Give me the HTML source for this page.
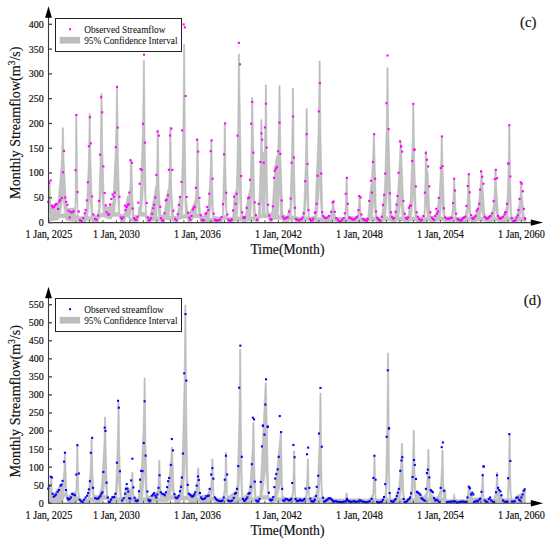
<!DOCTYPE html>
<html><head><meta charset="utf-8"><style>
html,body{margin:0;padding:0;background:#fff;width:550px;height:541px;overflow:hidden}
svg{display:block}
text{font-family:"Liberation Serif", serif;fill:#111}
.b{stroke:#111;stroke-width:0.18px}
.c{stroke:#111;stroke-width:0.05px}
</style></head><body>
<svg width="550" height="541" viewBox="0 0 550 541">
<rect width="550" height="541" fill="#fff"/>
<polygon points="48.60,187.39 48.70,180.49 49.80,180.49 50.85,203.70 51.85,206.67 57.85,202.68 58.10,202.76 61.10,166.19 62.10,142.47 62.35,127.85 63.41,127.85 64.10,162.19 66.35,204.70 67.35,208.22 67.60,208.59 74.85,207.88 75.10,204.93 75.60,147.59 75.69,115.28 76.79,115.28 77.85,207.00 78.10,214.96 79.35,216.72 83.60,216.72 85.10,211.85 85.35,211.61 86.35,211.98 88.35,163.74 88.85,142.86 89.15,113.80 90.25,113.80 90.85,160.45 92.60,213.09 92.85,214.44 96.85,215.63 97.10,215.23 98.10,210.04 98.60,209.78 100.10,160.47 100.85,108.71 100.90,93.84 102.00,93.84 102.60,146.72 104.35,205.22 104.60,206.65 108.10,206.81 111.10,204.82 112.10,202.95 112.35,202.81 112.85,203.32 115.35,149.42 116.10,120.23 116.43,87.92 117.53,87.92 118.35,158.05 119.85,213.34 120.60,214.39 123.85,214.50 124.10,214.36 127.35,196.60 127.60,195.90 128.85,194.65 129.35,195.39 130.10,183.17 130.63,159.79 131.73,159.79 132.85,200.99 133.10,203.51 133.35,204.06 134.10,214.74 134.35,215.28 137.60,215.93 137.85,215.74 138.60,207.14 139.60,208.19 139.85,206.23 142.35,134.82 143.10,95.00 143.35,60.63 144.44,60.63 145.10,142.60 146.35,209.17 146.60,215.56 149.60,217.43 154.10,196.73 155.60,186.46 156.10,187.46 156.85,163.39 157.24,130.06 158.34,130.06 159.10,188.80 160.60,212.39 160.85,214.55 163.60,215.93 167.85,189.36 168.60,190.20 169.35,166.67 169.85,127.11 170.91,127.11 171.60,185.49 171.85,193.92 173.60,215.82 176.85,216.68 177.10,216.06 179.85,196.14 180.10,195.38 181.35,196.45 182.85,127.60 183.35,87.43 183.60,44.36 184.66,44.36 185.35,146.90 186.10,198.97 186.35,200.70 186.85,201.13 187.85,214.50 188.10,214.50 191.85,208.47 194.85,200.69 195.60,196.40 196.60,167.72 196.95,138.94 198.05,138.94 198.85,197.35 199.10,200.36 199.60,201.13 200.60,214.89 200.85,215.98 205.85,215.98 206.10,217.41 207.10,210.13 207.85,210.83 208.10,209.79 210.10,173.39 210.60,155.77 210.85,139.68 211.87,139.68 212.60,185.36 213.60,214.12 213.85,216.45 222.10,217.46 222.35,215.99 223.85,161.40 224.23,122.67 225.33,122.67 225.85,170.32 227.10,216.13 227.35,217.46 232.60,217.46 234.10,196.74 235.60,190.79 236.35,189.50 237.60,135.53 238.10,93.59 238.35,53.97 239.38,53.97 241.60,202.48 241.85,210.12 242.35,212.75 242.60,215.25 242.85,215.96 245.60,215.69 246.35,206.32 249.60,189.45 249.85,190.01 250.10,187.68 251.10,147.81 251.60,97.53 252.69,97.53 254.60,199.56 255.60,214.75 256.35,217.41 258.35,216.08 259.35,192.15 260.60,149.85 260.90,119.71 262.00,119.71 262.35,150.09 262.60,152.39 264.35,152.39 265.10,118.11 265.35,84.96 266.44,84.96 267.10,170.08 267.85,204.73 268.35,212.23 268.60,213.02 271.60,213.02 271.85,212.47 274.85,166.56 276.35,156.68 277.60,155.02 278.60,119.68 278.94,85.70 280.04,85.70 280.85,157.94 282.85,213.43 283.10,214.60 285.85,215.91 286.10,217.31 287.35,215.43 288.85,209.07 289.10,208.74 289.85,209.57 291.60,151.93 292.10,121.86 292.35,88.11 293.43,88.11 294.10,154.39 295.60,215.89 296.35,216.72 302.10,218.16 302.35,217.44 303.10,211.62 303.60,212.05 305.35,164.54 305.85,140.03 306.12,108.74 307.22,108.74 307.85,164.81 309.10,211.78 309.35,216.94 309.85,217.37 314.85,215.98 317.85,139.18 318.85,90.51 319.10,61.05 320.15,61.05 320.85,135.38 322.85,215.98 326.60,217.14 330.35,214.51 330.85,214.57 332.10,207.33 332.47,201.19 333.57,201.19 334.35,210.99 335.10,215.18 335.60,215.43 336.35,217.46 344.85,217.34 345.85,193.24 346.10,177.53 347.18,177.53 347.85,205.57 348.35,215.47 348.60,216.34 357.35,217.24 358.35,209.07 358.85,200.76 358.94,196.02 360.04,196.02 360.85,211.16 361.60,217.91 365.85,217.77 366.10,218.15 367.35,217.52 368.10,214.97 369.85,192.73 371.10,183.98 371.35,183.27 372.85,154.61 373.35,133.14 374.35,133.14 376.35,211.51 377.10,217.46 381.35,217.46 381.60,216.73 384.60,187.24 386.35,123.89 386.85,86.52 386.93,67.71 388.03,67.71 388.60,124.25 391.10,212.02 392.35,217.44 394.85,215.86 397.60,193.86 399.60,158.06 400.10,140.91 401.12,140.91 403.85,208.43 404.85,216.70 408.10,215.99 410.35,198.52 412.35,137.16 412.73,104.31 413.83,104.31 414.60,157.75 416.10,208.00 416.35,211.91 417.35,216.91 417.60,217.44 423.60,216.73 424.35,208.47 425.10,175.40 425.35,150.91 426.44,150.91 426.85,165.20 427.35,170.26 427.85,171.99 428.10,172.03 429.60,208.69 430.85,217.43 434.60,216.04 436.85,210.41 439.35,194.06 440.85,159.02 441.24,136.47 442.34,136.47 442.85,165.01 443.60,183.27 444.35,206.55 445.10,215.83 445.85,216.59 446.10,217.43 451.60,215.98 451.85,211.36 452.10,210.33 452.35,210.69 453.35,192.30 453.60,179.01 454.68,179.01 456.10,213.90 456.35,216.40 457.10,217.46 465.10,216.73 465.85,211.08 466.10,210.25 466.35,210.59 466.60,209.55 467.60,193.68 468.10,173.84 469.17,173.84 470.60,214.00 470.85,216.67 471.35,217.34 475.60,214.42 477.85,206.77 478.85,200.77 480.60,181.05 480.94,170.88 482.04,170.88 482.60,184.27 483.60,194.40 484.35,209.79 485.60,217.31 491.85,214.44 493.60,203.18 494.60,186.16 494.99,169.40 496.09,169.40 496.60,188.10 498.60,215.99 504.35,216.71 506.85,203.04 508.10,169.10 508.60,144.28 508.74,125.19 509.84,125.19 510.60,182.80 511.35,209.29 511.85,217.45 516.85,216.74 518.35,206.44 518.60,205.63 518.85,205.63 519.10,204.71 520.10,194.12 520.60,181.97 521.67,181.97 522.35,196.85 524.35,217.22 525.35,218.76 525.60,218.70 525.85,218.39 525.85,222.00 524.60,222.00 524.35,221.76 524.10,220.82 518.10,220.88 517.60,222.00 511.60,222.00 511.35,221.76 511.10,220.86 510.85,220.74 505.85,220.80 505.10,221.92 498.35,222.00 498.10,220.98 497.85,220.74 492.60,220.74 492.10,222.00 485.35,222.00 484.60,220.74 477.10,220.74 476.10,222.00 471.35,222.00 471.10,221.70 470.85,220.76 466.35,220.86 465.85,221.99 456.60,222.00 456.10,220.85 455.85,220.74 453.10,220.74 452.10,221.98 444.85,222.00 444.35,220.74 436.35,220.74 435.60,221.89 435.35,222.00 430.10,221.89 429.60,220.77 424.85,220.74 424.10,222.00 416.85,222.00 416.35,220.90 416.10,220.74 409.60,220.77 408.85,221.90 404.35,222.00 403.60,220.74 396.35,220.74 395.35,222.00 391.85,222.00 391.10,220.74 383.10,220.74 382.35,221.92 376.85,222.00 376.35,220.74 369.85,220.74 368.35,222.00 361.60,221.96 361.35,221.48 357.85,221.48 357.35,222.00 348.60,222.00 348.10,221.48 345.35,221.48 344.85,222.00 335.10,221.82 334.85,220.92 334.60,220.74 331.85,220.74 330.85,222.00 323.35,222.00 322.85,221.48 314.10,221.48 313.85,222.00 309.35,221.84 308.85,220.74 303.85,220.74 303.10,221.90 295.60,222.00 294.85,219.99 290.35,219.39 288.85,221.51 282.85,222.00 282.10,219.26 272.60,219.26 271.85,222.00 269.35,222.00 268.10,217.78 259.60,217.78 258.60,222.00 256.10,222.00 255.60,220.92 255.35,220.74 246.60,220.85 245.85,222.00 242.85,222.00 242.10,220.74 234.10,220.74 233.35,222.00 227.85,222.00 227.60,221.77 226.60,219.26 223.10,219.26 221.85,222.00 206.10,222.00 205.85,220.80 200.60,222.00 199.85,217.78 193.35,217.78 191.85,221.36 191.60,221.52 188.10,222.00 187.35,217.78 178.60,219.24 177.60,221.77 177.35,222.00 174.10,221.83 173.60,220.73 165.35,219.29 165.10,219.52 164.35,221.77 164.10,222.00 161.10,222.00 160.60,220.74 151.85,220.77 150.85,222.00 146.85,222.00 145.10,216.30 139.35,216.30 138.10,221.74 137.85,222.00 129.85,220.81 128.85,217.73 126.10,216.35 124.60,222.00 120.85,222.00 120.60,221.60 119.85,216.30 112.60,216.30 111.10,219.19 105.10,217.68 104.35,216.32 99.35,217.75 98.10,221.75 97.85,222.00 92.60,222.00 91.85,220.75 86.60,220.13 85.60,222.00 78.10,221.87 77.10,219.37 75.35,219.26 74.10,221.47 66.60,220.53 65.10,217.78 59.35,217.78 57.85,219.97 48.60,220.86" fill="#c2c2c2" stroke="#acacac" stroke-width="0.5" stroke-linejoin="round"/><polygon points="48.85,216.16 49.10,214.05 49.35,212.73 49.60,214.62 49.85,215.96 49.85,217.28 49.60,217.20 49.35,217.11 49.10,217.03 48.85,216.95" fill="#f4f4f4"/><polygon points="60.35,213.41 60.60,212.39 60.85,211.32 61.10,210.19 61.35,208.99 61.60,207.69 61.85,206.26 62.10,204.67 62.35,202.82 62.60,200.48 62.85,196.05 63.10,201.16 63.35,203.96 63.60,206.16 63.85,208.04 64.10,209.71 64.35,211.24 64.60,212.66 64.60,213.78 64.35,213.78 64.10,213.78 63.85,213.78 63.60,213.78 63.35,213.78 63.10,213.78 62.85,213.78 62.60,213.78 62.35,213.78 62.10,213.78 61.85,213.78 61.60,213.78 61.35,213.78 61.10,213.78 60.85,213.78 60.60,213.78 60.35,213.78" fill="#f4f4f4"/><polygon points="75.85,209.87 76.10,202.72 76.35,199.87 76.60,205.97 76.85,210.24 77.10,213.88 77.10,215.37 76.85,215.26 76.60,215.26 76.35,215.26 76.10,215.26 75.85,215.26" fill="#f4f4f4"/><polygon points="88.10,214.63 88.35,212.80 88.60,210.79 88.85,208.56 89.10,205.99 89.35,202.85 89.60,198.28 89.85,199.96 90.10,204.32 90.35,207.55 90.60,210.26 90.85,212.66 91.10,214.85 91.10,216.63 90.85,216.60 90.60,216.56 90.35,216.52 90.10,216.49 89.85,216.45 89.60,216.42 89.35,216.38 89.10,216.35 88.85,216.31 88.60,216.27 88.35,216.24 88.10,216.20" fill="#f4f4f4"/><polygon points="100.10,212.06 100.35,209.27 100.60,206.19 100.85,202.69 101.10,198.48 101.35,192.48 101.60,193.46 101.85,198.62 102.10,202.37 102.35,205.47 102.60,208.19 102.85,210.63 102.85,212.75 102.60,212.82 102.35,212.89 102.10,212.96 101.85,213.03 101.60,213.10 101.35,213.18 101.10,213.25 100.85,213.32 100.60,213.39 100.35,213.46 100.10,213.53" fill="#f4f4f4"/><polygon points="114.85,211.28 115.10,209.49 115.35,207.58 115.60,205.53 115.85,203.31 116.10,200.86 116.35,198.06 116.60,194.69 116.85,190.01 117.10,191.07 117.35,196.94 117.60,201.11 117.85,204.58 118.10,207.61 118.35,210.35 118.35,212.30 118.10,212.30 117.85,212.30 117.60,212.30 117.35,212.30 117.10,212.30 116.85,212.30 116.60,212.30 116.35,212.30 116.10,212.30 115.85,212.30 115.60,212.30 115.35,212.30 115.10,212.30 114.85,212.30" fill="#f4f4f4"/><polygon points="130.35,216.10 130.60,214.38 130.85,212.21 131.10,208.84 131.35,210.52 131.60,213.41 131.85,215.65 132.10,217.59 132.10,217.94 131.85,217.81 131.60,217.69 131.35,217.56 131.10,217.44 130.85,217.31 130.60,217.19 130.35,217.06" fill="#f4f4f4"/><polygon points="141.85,210.28 142.10,208.00 142.35,205.57 142.60,202.96 142.85,200.11 143.10,196.93 143.35,193.25 143.60,188.68 143.85,181.31 144.10,189.44 144.35,196.02 144.60,201.08 144.85,205.37 145.10,209.18 145.10,212.30 144.85,212.30 144.60,212.30 144.35,212.30 144.10,212.30 143.85,212.30 143.60,212.30 143.35,212.30 143.10,212.30 142.85,212.30 142.60,212.30 142.35,212.30 142.10,212.30 141.85,212.30" fill="#f4f4f4"/><polygon points="157.10,214.13 157.35,210.63 157.60,206.02 157.85,202.50 158.10,209.24 158.35,213.57 158.35,216.74 158.10,216.74 157.85,216.74 157.60,216.74 157.35,216.74 157.10,216.74" fill="#f4f4f4"/><polygon points="169.60,214.25 169.85,210.87 170.10,206.59 170.35,198.71 170.60,206.94 170.85,211.84 171.10,215.70 171.10,216.30 170.85,216.25 170.60,216.21 170.35,216.16 170.10,216.12 169.85,216.08 169.60,216.03" fill="#f4f4f4"/><polygon points="182.85,211.02 183.10,206.86 183.35,202.22 183.60,196.83 183.85,190.08 184.10,177.93 184.35,191.68 184.60,199.89 184.85,206.28 185.10,211.74 185.10,214.16 184.85,214.20 184.60,214.24 184.35,214.28 184.10,214.32 183.85,214.37 183.60,214.41 183.35,214.45 183.10,214.49 182.85,214.53" fill="#f4f4f4"/><polygon points="196.60,213.07 196.85,210.60 197.10,207.65 197.35,203.62 197.60,203.22 197.85,208.22 198.10,211.70 198.10,213.78 197.85,213.78 197.60,213.78 197.35,213.78 197.10,213.78 196.85,213.78 196.60,213.78" fill="#f4f4f4"/><polygon points="209.60,217.50 209.85,216.17 210.10,214.74 210.35,213.17 210.60,211.40 210.85,209.32 211.10,206.65 211.35,203.37 211.60,208.49 211.85,211.50 212.10,213.90 212.35,215.97 212.35,218.00 212.10,218.00 211.85,218.00 211.60,218.00 211.35,218.00 211.10,218.00 210.85,218.00 210.60,218.00 210.35,218.00 210.10,218.00 209.85,218.00 209.60,218.00" fill="#f4f4f4"/><polygon points="223.60,213.70 223.85,211.42 224.10,208.84 224.35,205.78 224.60,201.72 224.85,199.15 225.10,204.42 225.35,207.91 225.60,210.74 225.85,213.20 225.85,215.26 225.60,215.26 225.35,215.26 225.10,215.26 224.85,215.26 224.60,215.26 224.35,215.26 224.10,215.26 223.85,215.26 223.60,215.26" fill="#f4f4f4"/><polygon points="237.60,215.56 237.85,211.26 238.10,206.43 238.35,200.78 238.60,193.51 238.85,182.57 239.10,193.14 239.35,199.22 239.60,204.06 239.85,208.23 240.10,211.97 240.35,215.38 240.35,216.74 240.10,216.74 239.85,216.74 239.60,216.74 239.35,216.74 239.10,216.74 238.85,216.74 238.60,216.74 238.35,216.74 238.10,216.74 237.85,216.74 237.60,216.74" fill="#f4f4f4"/><polygon points="251.10,215.00 251.35,211.47 251.60,207.39 251.85,202.30 252.10,193.93 252.35,199.34 252.60,204.35 252.85,208.21 253.10,211.49 253.35,214.41 253.35,216.74 253.10,216.74 252.85,216.74 252.60,216.74 252.35,216.74 252.10,216.74 251.85,216.74 251.60,216.74 251.35,216.74 251.10,216.74" fill="#f4f4f4"/><polygon points="261.10,209.83 261.35,201.67 261.60,203.50 261.85,210.94 261.85,213.78 261.60,213.78 261.35,213.78 261.10,213.78" fill="#f4f4f4"/><polygon points="265.35,208.40 265.60,201.48 265.85,190.20 266.10,200.29 266.35,208.74 266.35,213.78 266.10,213.78 265.85,213.78 265.60,213.78 265.35,213.78" fill="#f4f4f4"/><polygon points="278.60,213.87 278.85,209.24 279.10,203.70 279.35,196.11 279.60,195.69 279.85,204.96 280.10,211.45 280.10,215.26 279.85,215.26 279.60,215.26 279.35,215.26 279.10,215.26 278.85,215.26 278.60,215.26" fill="#f4f4f4"/><polygon points="291.35,214.42 291.60,211.87 291.85,209.07 292.10,205.92 292.35,202.26 292.60,197.65 292.85,189.76 293.10,196.95 293.35,202.17 293.60,206.23 293.85,209.71 294.10,212.82 294.10,215.87 293.85,215.83 293.60,215.79 293.35,215.74 293.10,215.70 292.85,215.66 292.60,215.62 292.35,215.58 292.10,215.54 291.85,215.49 291.60,215.45 291.35,215.41" fill="#f4f4f4"/><polygon points="305.10,216.24 305.35,214.09 305.60,211.75 305.85,209.15 306.10,206.16 306.35,202.47 306.60,196.84 306.85,200.52 307.10,205.20 307.35,208.73 307.60,211.72 307.85,214.36 307.85,216.74 307.60,216.74 307.35,216.74 307.10,216.74 306.85,216.74 306.60,216.74 306.35,216.74 306.10,216.74 305.85,216.74 305.60,216.74 305.35,216.74 305.10,216.74" fill="#f4f4f4"/><polygon points="317.10,216.72 317.35,214.73 317.60,212.65 317.85,210.44 318.10,208.08 318.35,205.54 318.60,202.76 318.85,199.64 319.10,196.01 319.35,191.42 319.60,182.45 319.85,193.61 320.10,199.37 320.35,203.91 320.60,207.79 320.85,211.25 321.10,214.42 321.10,217.48 320.85,217.48 320.60,217.48 320.35,217.48 320.10,217.48 319.85,217.48 319.60,217.48 319.35,217.48 319.10,217.48 318.85,217.48 318.60,217.48 318.35,217.48 318.10,217.48 317.85,217.48 317.60,217.48 317.35,217.48 317.10,217.48" fill="#f4f4f4"/><polygon points="345.85,216.66 346.10,215.48 346.35,214.00 346.60,211.49 346.85,213.58 347.10,215.17 347.35,216.41 347.35,217.48 347.10,217.48 346.85,217.48 346.60,217.48 346.35,217.48 346.10,217.48 345.85,217.48" fill="#f4f4f4"/><polygon points="358.85,216.87 359.10,216.45 359.35,215.88 359.60,215.74 359.85,216.34 360.10,216.76 360.35,217.10 360.35,217.48 360.10,217.48 359.85,217.48 359.60,217.48 359.35,217.48 359.10,217.48 358.85,217.48" fill="#f4f4f4"/><polygon points="372.60,215.96 372.85,213.90 373.10,211.57 373.35,208.82 373.60,205.23 373.85,201.81 374.10,206.82 374.35,209.98 374.60,212.53 374.85,214.74 374.85,216.74 374.60,216.74 374.35,216.74 374.10,216.74 373.85,216.74 373.60,216.74 373.35,216.74 373.10,216.74 372.85,216.74 372.60,216.74" fill="#f4f4f4"/><polygon points="386.10,213.76 386.35,210.50 386.60,206.90 386.85,202.79 387.10,197.85 387.35,190.97 387.60,190.69 387.85,197.68 388.10,202.66 388.35,206.78 388.60,210.40 388.85,213.67 388.85,216.74 388.60,216.74 388.35,216.74 388.10,216.74 387.85,216.74 387.60,216.74 387.35,216.74 387.10,216.74 386.85,216.74 386.60,216.74 386.35,216.74 386.10,216.74" fill="#f4f4f4"/><polygon points="399.10,215.85 399.35,214.38 399.60,212.76 399.85,210.94 400.10,208.80 400.35,206.03 400.60,202.83 400.85,207.34 401.10,210.06 401.35,212.24 401.60,214.13 401.85,215.81 401.85,216.74 401.60,216.74 401.35,216.74 401.10,216.74 400.85,216.74 400.60,216.74 400.35,216.74 400.10,216.74 399.85,216.74 399.60,216.74 399.35,216.74 399.10,216.74" fill="#f4f4f4"/><polygon points="411.85,215.04 412.10,212.70 412.35,210.12 412.60,207.21 412.85,203.75 413.10,199.18 413.35,196.30 413.60,202.59 413.85,206.72 414.10,210.08 414.35,212.99 414.60,215.61 414.60,216.74 414.35,216.74 414.10,216.74 413.85,216.74 413.60,216.74 413.35,216.74 413.10,216.74 412.85,216.74 412.60,216.74 412.35,216.74 412.10,216.74 411.85,216.74" fill="#f4f4f4"/><polygon points="425.35,214.26 425.60,211.07 425.85,205.87 426.10,207.97 426.35,210.50 426.60,212.44 426.85,214.09 427.10,215.55 427.10,216.74 426.85,216.74 426.60,216.74 426.35,216.74 426.10,216.74 425.85,216.74 425.60,216.74 425.35,216.74" fill="#f4f4f4"/><polygon points="440.60,215.89 440.85,213.90 441.10,211.67 441.35,209.02 441.60,205.52 441.85,203.13 442.10,207.95 442.35,211.09 442.60,213.65 442.85,215.86 442.85,216.74 442.60,216.74 442.35,216.74 442.10,216.74 441.85,216.74 441.60,216.74 441.35,216.74 441.10,216.74 440.85,216.74 440.60,216.74" fill="#f4f4f4"/><polygon points="453.35,216.00 453.60,214.92 453.85,213.56 454.10,211.31 454.35,212.85 454.60,214.18 454.85,215.22 455.10,216.09 455.10,216.74 454.85,216.74 454.60,216.74 454.35,216.74 454.10,216.74 453.85,216.74 453.60,216.74 453.35,216.74" fill="#f4f4f4"/><polygon points="467.60,216.19 467.85,215.17 468.10,213.98 468.35,212.49 468.60,209.94 468.85,212.13 469.10,213.72 469.35,214.95 469.60,216.00 469.60,216.74 469.35,216.74 469.10,216.74 468.85,216.74 468.60,216.74 468.35,216.74 468.10,216.74 467.85,216.74 467.60,216.74" fill="#f4f4f4"/><polygon points="480.35,215.74 480.60,214.79 480.85,213.71 481.10,212.41 481.35,210.63 481.60,210.34 481.85,212.24 482.10,213.57 482.35,214.67 482.60,215.63 482.60,216.74 482.35,216.74 482.10,216.74 481.85,216.74 481.60,216.74 481.35,216.74 481.10,216.74 480.85,216.74 480.60,216.74 480.35,216.74" fill="#f4f4f4"/><polygon points="494.60,215.97 494.85,214.71 495.10,213.21 495.35,211.23 495.60,209.66 495.85,212.17 496.10,213.80 496.35,215.13 496.60,216.27 496.60,216.74 496.35,216.74 496.10,216.74 495.85,216.74 495.60,216.74 495.35,216.74 495.10,216.74 494.85,216.74 494.60,216.74" fill="#f4f4f4"/><polygon points="508.10,215.78 508.35,213.48 508.60,210.88 508.85,207.81 509.10,203.76 509.35,200.98 509.60,207.06 509.85,210.99 510.10,214.17 510.10,216.74 509.85,216.74 509.60,216.74 509.35,216.74 509.10,216.74 508.85,216.74 508.60,216.74 508.35,216.74 508.10,216.74" fill="#f4f4f4"/><polygon points="520.10,216.32 520.35,215.57 520.60,214.69 520.85,213.59 521.10,211.65 521.35,213.37 521.60,214.53 521.85,215.43 522.10,216.21 522.10,216.74 521.85,216.74 521.60,216.74 521.35,216.74 521.10,216.74 520.85,216.74 520.60,216.74 520.35,216.74 520.10,216.74" fill="#f4f4f4"/><rect x="47.17" y="200.88" width="2.1" height="2.1" fill="#ff00ff"/><rect x="48.20" y="182.10" width="2.1" height="2.1" fill="#ff00ff"/><rect x="49.68" y="179.44" width="2.1" height="2.1" fill="#ff00ff"/><rect x="50.86" y="204.58" width="2.1" height="2.1" fill="#ff00ff"/><rect x="51.75" y="206.35" width="2.1" height="2.1" fill="#ff00ff"/><rect x="52.79" y="205.76" width="2.1" height="2.1" fill="#ff00ff"/><rect x="53.82" y="204.28" width="2.1" height="2.1" fill="#ff00ff"/><rect x="54.86" y="202.80" width="2.1" height="2.1" fill="#ff00ff"/><rect x="55.74" y="203.10" width="2.1" height="2.1" fill="#ff00ff"/><rect x="57.08" y="207.83" width="2.1" height="2.1" fill="#ff00ff"/><rect x="58.26" y="200.59" width="2.1" height="2.1" fill="#ff00ff"/><rect x="59.15" y="198.96" width="2.1" height="2.1" fill="#ff00ff"/><rect x="60.77" y="196.89" width="2.1" height="2.1" fill="#ff00ff"/><rect x="61.96" y="171.31" width="2.1" height="2.1" fill="#ff00ff"/><rect x="62.99" y="149.86" width="2.1" height="2.1" fill="#ff00ff"/><rect x="64.17" y="196.45" width="2.1" height="2.1" fill="#ff00ff"/><rect x="65.21" y="200.88" width="2.1" height="2.1" fill="#ff00ff"/><rect x="66.39" y="203.84" width="2.1" height="2.1" fill="#ff00ff"/><rect x="67.57" y="209.75" width="2.1" height="2.1" fill="#ff00ff"/><rect x="68.61" y="216.41" width="2.1" height="2.1" fill="#ff00ff"/><rect x="69.79" y="211.23" width="2.1" height="2.1" fill="#ff00ff"/><rect x="71.27" y="211.23" width="2.1" height="2.1" fill="#ff00ff"/><rect x="72.60" y="210.20" width="2.1" height="2.1" fill="#ff00ff"/><rect x="74.52" y="169.09" width="2.1" height="2.1" fill="#ff00ff"/><rect x="76.45" y="190.97" width="2.1" height="2.1" fill="#ff00ff"/><rect x="77.78" y="210.49" width="2.1" height="2.1" fill="#ff00ff"/><rect x="78.96" y="219.07" width="2.1" height="2.1" fill="#ff00ff"/><rect x="80.44" y="219.96" width="2.1" height="2.1" fill="#ff00ff"/><rect x="82.21" y="217.15" width="2.1" height="2.1" fill="#ff00ff"/><rect x="83.69" y="212.27" width="2.1" height="2.1" fill="#ff00ff"/><rect x="84.58" y="209.01" width="2.1" height="2.1" fill="#ff00ff"/><rect x="85.76" y="199.40" width="2.1" height="2.1" fill="#ff00ff"/><rect x="86.80" y="181.21" width="2.1" height="2.1" fill="#ff00ff"/><rect x="87.83" y="145.13" width="2.1" height="2.1" fill="#ff00ff"/><rect x="91.09" y="195.41" width="2.1" height="2.1" fill="#ff00ff"/><rect x="92.27" y="213.45" width="2.1" height="2.1" fill="#ff00ff"/><rect x="94.04" y="217.89" width="2.1" height="2.1" fill="#ff00ff"/><rect x="95.52" y="218.63" width="2.1" height="2.1" fill="#ff00ff"/><rect x="97.00" y="214.49" width="2.1" height="2.1" fill="#ff00ff"/><rect x="97.89" y="199.85" width="2.1" height="2.1" fill="#ff00ff"/><rect x="98.92" y="153.56" width="2.1" height="2.1" fill="#ff00ff"/><rect x="102.33" y="165.39" width="2.1" height="2.1" fill="#ff00ff"/><rect x="103.51" y="192.01" width="2.1" height="2.1" fill="#ff00ff"/><rect x="104.69" y="204.28" width="2.1" height="2.1" fill="#ff00ff"/><rect x="105.58" y="211.23" width="2.1" height="2.1" fill="#ff00ff"/><rect x="107.06" y="213.45" width="2.1" height="2.1" fill="#ff00ff"/><rect x="108.09" y="213.45" width="2.1" height="2.1" fill="#ff00ff"/><rect x="108.98" y="203.40" width="2.1" height="2.1" fill="#ff00ff"/><rect x="110.31" y="197.92" width="2.1" height="2.1" fill="#ff00ff"/><rect x="111.49" y="193.49" width="2.1" height="2.1" fill="#ff00ff"/><rect x="112.68" y="195.71" width="2.1" height="2.1" fill="#ff00ff"/><rect x="113.71" y="191.57" width="2.1" height="2.1" fill="#ff00ff"/><rect x="114.75" y="146.17" width="2.1" height="2.1" fill="#ff00ff"/><rect x="118.44" y="195.71" width="2.1" height="2.1" fill="#ff00ff"/><rect x="119.63" y="216.41" width="2.1" height="2.1" fill="#ff00ff"/><rect x="120.81" y="217.89" width="2.1" height="2.1" fill="#ff00ff"/><rect x="122.29" y="216.41" width="2.1" height="2.1" fill="#ff00ff"/><rect x="123.91" y="204.58" width="2.1" height="2.1" fill="#ff00ff"/><rect x="124.51" y="209.01" width="2.1" height="2.1" fill="#ff00ff"/><rect x="75.26" y="113.93" width="2.1" height="2.1" fill="#ff00ff"/><rect x="88.87" y="116.15" width="2.1" height="2.1" fill="#ff00ff"/><rect x="89.76" y="142.32" width="2.1" height="2.1" fill="#ff00ff"/><rect x="100.11" y="96.19" width="2.1" height="2.1" fill="#ff00ff"/><rect x="101.14" y="111.27" width="2.1" height="2.1" fill="#ff00ff"/><rect x="115.93" y="85.84" width="2.1" height="2.1" fill="#ff00ff"/><rect x="116.67" y="126.50" width="2.1" height="2.1" fill="#ff00ff"/><rect x="125.69" y="206.06" width="2.1" height="2.1" fill="#ff00ff"/><rect x="126.72" y="203.84" width="2.1" height="2.1" fill="#ff00ff"/><rect x="127.61" y="203.10" width="2.1" height="2.1" fill="#ff00ff"/><rect x="128.20" y="191.57" width="2.1" height="2.1" fill="#ff00ff"/><rect x="129.39" y="159.18" width="2.1" height="2.1" fill="#ff00ff"/><rect x="130.86" y="161.69" width="2.1" height="2.1" fill="#ff00ff"/><rect x="131.60" y="207.54" width="2.1" height="2.1" fill="#ff00ff"/><rect x="133.08" y="217.15" width="2.1" height="2.1" fill="#ff00ff"/><rect x="134.12" y="218.63" width="2.1" height="2.1" fill="#ff00ff"/><rect x="135.30" y="218.63" width="2.1" height="2.1" fill="#ff00ff"/><rect x="136.34" y="215.67" width="2.1" height="2.1" fill="#ff00ff"/><rect x="137.22" y="201.62" width="2.1" height="2.1" fill="#ff00ff"/><rect x="138.55" y="182.69" width="2.1" height="2.1" fill="#ff00ff"/><rect x="139.44" y="168.05" width="2.1" height="2.1" fill="#ff00ff"/><rect x="140.77" y="168.79" width="2.1" height="2.1" fill="#ff00ff"/><rect x="145.65" y="201.92" width="2.1" height="2.1" fill="#ff00ff"/><rect x="146.84" y="216.41" width="2.1" height="2.1" fill="#ff00ff"/><rect x="147.87" y="219.37" width="2.1" height="2.1" fill="#ff00ff"/><rect x="148.91" y="218.63" width="2.1" height="2.1" fill="#ff00ff"/><rect x="150.09" y="217.15" width="2.1" height="2.1" fill="#ff00ff"/><rect x="151.12" y="212.71" width="2.1" height="2.1" fill="#ff00ff"/><rect x="152.31" y="207.24" width="2.1" height="2.1" fill="#ff00ff"/><rect x="153.05" y="203.84" width="2.1" height="2.1" fill="#ff00ff"/><rect x="154.23" y="196.45" width="2.1" height="2.1" fill="#ff00ff"/><rect x="155.26" y="173.97" width="2.1" height="2.1" fill="#ff00ff"/><rect x="159.26" y="205.76" width="2.1" height="2.1" fill="#ff00ff"/><rect x="160.00" y="217.15" width="2.1" height="2.1" fill="#ff00ff"/><rect x="161.18" y="219.37" width="2.1" height="2.1" fill="#ff00ff"/><rect x="162.21" y="219.37" width="2.1" height="2.1" fill="#ff00ff"/><rect x="163.40" y="212.27" width="2.1" height="2.1" fill="#ff00ff"/><rect x="164.58" y="199.40" width="2.1" height="2.1" fill="#ff00ff"/><rect x="165.62" y="198.66" width="2.1" height="2.1" fill="#ff00ff"/><rect x="166.80" y="194.23" width="2.1" height="2.1" fill="#ff00ff"/><rect x="167.83" y="168.79" width="2.1" height="2.1" fill="#ff00ff"/><rect x="171.23" y="168.79" width="2.1" height="2.1" fill="#ff00ff"/><rect x="172.27" y="209.75" width="2.1" height="2.1" fill="#ff00ff"/><rect x="174.19" y="217.89" width="2.1" height="2.1" fill="#ff00ff"/><rect x="175.52" y="219.37" width="2.1" height="2.1" fill="#ff00ff"/><rect x="176.71" y="213.16" width="2.1" height="2.1" fill="#ff00ff"/><rect x="177.89" y="203.84" width="2.1" height="2.1" fill="#ff00ff"/><rect x="178.92" y="196.00" width="2.1" height="2.1" fill="#ff00ff"/><rect x="180.40" y="180.92" width="2.1" height="2.1" fill="#ff00ff"/><rect x="185.58" y="196.00" width="2.1" height="2.1" fill="#ff00ff"/><rect x="187.06" y="211.68" width="2.1" height="2.1" fill="#ff00ff"/><rect x="188.24" y="216.70" width="2.1" height="2.1" fill="#ff00ff"/><rect x="189.28" y="218.63" width="2.1" height="2.1" fill="#ff00ff"/><rect x="190.46" y="214.93" width="2.1" height="2.1" fill="#ff00ff"/><rect x="191.79" y="208.57" width="2.1" height="2.1" fill="#ff00ff"/><rect x="192.68" y="206.80" width="2.1" height="2.1" fill="#ff00ff"/><rect x="193.71" y="205.76" width="2.1" height="2.1" fill="#ff00ff"/><rect x="194.89" y="186.83" width="2.1" height="2.1" fill="#ff00ff"/><rect x="197.11" y="150.60" width="2.1" height="2.1" fill="#ff00ff"/><rect x="198.44" y="196.89" width="2.1" height="2.1" fill="#ff00ff"/><rect x="199.63" y="214.19" width="2.1" height="2.1" fill="#ff00ff"/><rect x="200.66" y="218.63" width="2.1" height="2.1" fill="#ff00ff"/><rect x="201.84" y="219.37" width="2.1" height="2.1" fill="#ff00ff"/><rect x="203.03" y="219.37" width="2.1" height="2.1" fill="#ff00ff"/><rect x="204.36" y="213.16" width="2.1" height="2.1" fill="#ff00ff"/><rect x="141.96" y="122.80" width="2.1" height="2.1" fill="#ff00ff"/><rect x="143.88" y="141.58" width="2.1" height="2.1" fill="#ff00ff"/><rect x="156.45" y="130.49" width="2.1" height="2.1" fill="#ff00ff"/><rect x="157.78" y="134.63" width="2.1" height="2.1" fill="#ff00ff"/><rect x="170.35" y="127.54" width="2.1" height="2.1" fill="#ff00ff"/><rect x="169.02" y="134.49" width="2.1" height="2.1" fill="#ff00ff"/><rect x="184.54" y="95.00" width="2.1" height="2.1" fill="#ff00ff"/><rect x="181.14" y="129.31" width="2.1" height="2.1" fill="#ff00ff"/><rect x="195.93" y="138.63" width="2.1" height="2.1" fill="#ff00ff"/><rect x="142.99" y="53.66" width="2.1" height="2.1" fill="#ff00ff"/><rect x="182.62" y="23.35" width="2.1" height="2.1" fill="#ff00ff"/><rect x="183.80" y="26.31" width="2.1" height="2.1" fill="#ff00ff"/><rect x="205.25" y="211.97" width="2.1" height="2.1" fill="#ff00ff"/><rect x="206.13" y="206.06" width="2.1" height="2.1" fill="#ff00ff"/><rect x="207.17" y="209.01" width="2.1" height="2.1" fill="#ff00ff"/><rect x="208.20" y="192.75" width="2.1" height="2.1" fill="#ff00ff"/><rect x="209.68" y="150.16" width="2.1" height="2.1" fill="#ff00ff"/><rect x="211.60" y="177.67" width="2.1" height="2.1" fill="#ff00ff"/><rect x="212.64" y="212.71" width="2.1" height="2.1" fill="#ff00ff"/><rect x="213.82" y="218.63" width="2.1" height="2.1" fill="#ff00ff"/><rect x="215.01" y="219.37" width="2.1" height="2.1" fill="#ff00ff"/><rect x="216.04" y="219.37" width="2.1" height="2.1" fill="#ff00ff"/><rect x="217.52" y="219.07" width="2.1" height="2.1" fill="#ff00ff"/><rect x="219.00" y="218.63" width="2.1" height="2.1" fill="#ff00ff"/><rect x="220.48" y="216.11" width="2.1" height="2.1" fill="#ff00ff"/><rect x="221.96" y="203.10" width="2.1" height="2.1" fill="#ff00ff"/><rect x="222.99" y="153.27" width="2.1" height="2.1" fill="#ff00ff"/><rect x="225.21" y="191.71" width="2.1" height="2.1" fill="#ff00ff"/><rect x="226.39" y="213.45" width="2.1" height="2.1" fill="#ff00ff"/><rect x="227.43" y="218.63" width="2.1" height="2.1" fill="#ff00ff"/><rect x="228.61" y="219.66" width="2.1" height="2.1" fill="#ff00ff"/><rect x="229.79" y="219.37" width="2.1" height="2.1" fill="#ff00ff"/><rect x="230.83" y="218.33" width="2.1" height="2.1" fill="#ff00ff"/><rect x="232.01" y="209.46" width="2.1" height="2.1" fill="#ff00ff"/><rect x="233.05" y="195.71" width="2.1" height="2.1" fill="#ff00ff"/><rect x="234.52" y="202.80" width="2.1" height="2.1" fill="#ff00ff"/><rect x="235.56" y="192.75" width="2.1" height="2.1" fill="#ff00ff"/><rect x="240.14" y="175.00" width="2.1" height="2.1" fill="#ff00ff"/><rect x="241.18" y="211.23" width="2.1" height="2.1" fill="#ff00ff"/><rect x="242.21" y="216.41" width="2.1" height="2.1" fill="#ff00ff"/><rect x="243.10" y="217.15" width="2.1" height="2.1" fill="#ff00ff"/><rect x="243.84" y="216.11" width="2.1" height="2.1" fill="#ff00ff"/><rect x="245.62" y="206.80" width="2.1" height="2.1" fill="#ff00ff"/><rect x="247.09" y="197.18" width="2.1" height="2.1" fill="#ff00ff"/><rect x="248.13" y="196.45" width="2.1" height="2.1" fill="#ff00ff"/><rect x="248.87" y="178.70" width="2.1" height="2.1" fill="#ff00ff"/><rect x="252.27" y="151.64" width="2.1" height="2.1" fill="#ff00ff"/><rect x="253.75" y="201.33" width="2.1" height="2.1" fill="#ff00ff"/><rect x="254.93" y="214.19" width="2.1" height="2.1" fill="#ff00ff"/><rect x="255.97" y="218.63" width="2.1" height="2.1" fill="#ff00ff"/><rect x="257.74" y="202.80" width="2.1" height="2.1" fill="#ff00ff"/><rect x="259.37" y="160.96" width="2.1" height="2.1" fill="#ff00ff"/><rect x="262.62" y="161.69" width="2.1" height="2.1" fill="#ff00ff"/><rect x="265.58" y="146.61" width="2.1" height="2.1" fill="#ff00ff"/><rect x="267.06" y="203.69" width="2.1" height="2.1" fill="#ff00ff"/><rect x="268.24" y="214.63" width="2.1" height="2.1" fill="#ff00ff"/><rect x="269.57" y="217.89" width="2.1" height="2.1" fill="#ff00ff"/><rect x="270.46" y="218.63" width="2.1" height="2.1" fill="#ff00ff"/><rect x="271.79" y="205.32" width="2.1" height="2.1" fill="#ff00ff"/><rect x="272.97" y="176.78" width="2.1" height="2.1" fill="#ff00ff"/><rect x="273.71" y="169.83" width="2.1" height="2.1" fill="#ff00ff"/><rect x="274.75" y="167.61" width="2.1" height="2.1" fill="#ff00ff"/><rect x="275.93" y="166.13" width="2.1" height="2.1" fill="#ff00ff"/><rect x="277.11" y="150.16" width="2.1" height="2.1" fill="#ff00ff"/><rect x="279.18" y="152.82" width="2.1" height="2.1" fill="#ff00ff"/><rect x="280.66" y="199.40" width="2.1" height="2.1" fill="#ff00ff"/><rect x="281.84" y="215.67" width="2.1" height="2.1" fill="#ff00ff"/><rect x="283.32" y="217.89" width="2.1" height="2.1" fill="#ff00ff"/><rect x="284.36" y="217.15" width="2.1" height="2.1" fill="#ff00ff"/><rect x="210.57" y="139.37" width="2.1" height="2.1" fill="#ff00ff"/><rect x="224.17" y="122.36" width="2.1" height="2.1" fill="#ff00ff"/><rect x="236.45" y="134.63" width="2.1" height="2.1" fill="#ff00ff"/><rect x="251.23" y="100.92" width="2.1" height="2.1" fill="#ff00ff"/><rect x="250.05" y="122.66" width="2.1" height="2.1" fill="#ff00ff"/><rect x="260.40" y="132.42" width="2.1" height="2.1" fill="#ff00ff"/><rect x="261.14" y="138.63" width="2.1" height="2.1" fill="#ff00ff"/><rect x="264.84" y="102.69" width="2.1" height="2.1" fill="#ff00ff"/><rect x="263.80" y="126.35" width="2.1" height="2.1" fill="#ff00ff"/><rect x="278.44" y="121.62" width="2.1" height="2.1" fill="#ff00ff"/><rect x="237.78" y="41.83" width="2.1" height="2.1" fill="#ff00ff"/><rect x="238.96" y="63.28" width="2.1" height="2.1" fill="#ff00ff"/><rect x="285.69" y="216.41" width="2.1" height="2.1" fill="#ff00ff"/><rect x="286.72" y="216.41" width="2.1" height="2.1" fill="#ff00ff"/><rect x="288.20" y="210.49" width="2.1" height="2.1" fill="#ff00ff"/><rect x="289.68" y="197.48" width="2.1" height="2.1" fill="#ff00ff"/><rect x="290.57" y="161.69" width="2.1" height="2.1" fill="#ff00ff"/><rect x="292.79" y="156.52" width="2.1" height="2.1" fill="#ff00ff"/><rect x="293.82" y="206.80" width="2.1" height="2.1" fill="#ff00ff"/><rect x="295.01" y="217.89" width="2.1" height="2.1" fill="#ff00ff"/><rect x="296.04" y="218.63" width="2.1" height="2.1" fill="#ff00ff"/><rect x="297.52" y="219.37" width="2.1" height="2.1" fill="#ff00ff"/><rect x="299.00" y="218.63" width="2.1" height="2.1" fill="#ff00ff"/><rect x="300.48" y="217.89" width="2.1" height="2.1" fill="#ff00ff"/><rect x="301.51" y="216.41" width="2.1" height="2.1" fill="#ff00ff"/><rect x="302.69" y="212.27" width="2.1" height="2.1" fill="#ff00ff"/><rect x="304.17" y="180.18" width="2.1" height="2.1" fill="#ff00ff"/><rect x="306.39" y="162.88" width="2.1" height="2.1" fill="#ff00ff"/><rect x="307.43" y="209.01" width="2.1" height="2.1" fill="#ff00ff"/><rect x="308.91" y="217.89" width="2.1" height="2.1" fill="#ff00ff"/><rect x="310.09" y="219.66" width="2.1" height="2.1" fill="#ff00ff"/><rect x="311.27" y="219.37" width="2.1" height="2.1" fill="#ff00ff"/><rect x="312.31" y="217.59" width="2.1" height="2.1" fill="#ff00ff"/><rect x="313.79" y="211.97" width="2.1" height="2.1" fill="#ff00ff"/><rect x="314.52" y="211.23" width="2.1" height="2.1" fill="#ff00ff"/><rect x="315.56" y="202.80" width="2.1" height="2.1" fill="#ff00ff"/><rect x="316.45" y="174.71" width="2.1" height="2.1" fill="#ff00ff"/><rect x="320.14" y="172.49" width="2.1" height="2.1" fill="#ff00ff"/><rect x="321.18" y="211.23" width="2.1" height="2.1" fill="#ff00ff"/><rect x="322.21" y="214.93" width="2.1" height="2.1" fill="#ff00ff"/><rect x="323.40" y="216.41" width="2.1" height="2.1" fill="#ff00ff"/><rect x="324.88" y="217.15" width="2.1" height="2.1" fill="#ff00ff"/><rect x="326.35" y="216.41" width="2.1" height="2.1" fill="#ff00ff"/><rect x="327.83" y="214.93" width="2.1" height="2.1" fill="#ff00ff"/><rect x="330.05" y="210.79" width="2.1" height="2.1" fill="#ff00ff"/><rect x="331.53" y="201.33" width="2.1" height="2.1" fill="#ff00ff"/><rect x="332.57" y="200.44" width="2.1" height="2.1" fill="#ff00ff"/><rect x="333.75" y="210.79" width="2.1" height="2.1" fill="#ff00ff"/><rect x="335.23" y="217.15" width="2.1" height="2.1" fill="#ff00ff"/><rect x="336.71" y="218.63" width="2.1" height="2.1" fill="#ff00ff"/><rect x="338.18" y="220.11" width="2.1" height="2.1" fill="#ff00ff"/><rect x="339.66" y="220.11" width="2.1" height="2.1" fill="#ff00ff"/><rect x="341.14" y="218.63" width="2.1" height="2.1" fill="#ff00ff"/><rect x="342.62" y="217.15" width="2.1" height="2.1" fill="#ff00ff"/><rect x="343.80" y="212.27" width="2.1" height="2.1" fill="#ff00ff"/><rect x="344.69" y="192.75" width="2.1" height="2.1" fill="#ff00ff"/><rect x="345.87" y="176.78" width="2.1" height="2.1" fill="#ff00ff"/><rect x="346.76" y="202.80" width="2.1" height="2.1" fill="#ff00ff"/><rect x="348.24" y="216.41" width="2.1" height="2.1" fill="#ff00ff"/><rect x="349.28" y="217.15" width="2.1" height="2.1" fill="#ff00ff"/><rect x="350.75" y="217.89" width="2.1" height="2.1" fill="#ff00ff"/><rect x="352.23" y="218.63" width="2.1" height="2.1" fill="#ff00ff"/><rect x="353.71" y="217.89" width="2.1" height="2.1" fill="#ff00ff"/><rect x="355.19" y="216.41" width="2.1" height="2.1" fill="#ff00ff"/><rect x="356.23" y="215.67" width="2.1" height="2.1" fill="#ff00ff"/><rect x="357.41" y="209.01" width="2.1" height="2.1" fill="#ff00ff"/><rect x="358.15" y="194.97" width="2.1" height="2.1" fill="#ff00ff"/><rect x="359.63" y="196.45" width="2.1" height="2.1" fill="#ff00ff"/><rect x="360.37" y="213.45" width="2.1" height="2.1" fill="#ff00ff"/><rect x="361.84" y="217.89" width="2.1" height="2.1" fill="#ff00ff"/><rect x="363.32" y="219.07" width="2.1" height="2.1" fill="#ff00ff"/><rect x="364.51" y="218.63" width="2.1" height="2.1" fill="#ff00ff"/><rect x="292.05" y="115.46" width="2.1" height="2.1" fill="#ff00ff"/><rect x="305.58" y="133.20" width="2.1" height="2.1" fill="#ff00ff"/><rect x="318.89" y="82.18" width="2.1" height="2.1" fill="#ff00ff"/><rect x="317.78" y="110.35" width="2.1" height="2.1" fill="#ff00ff"/><rect x="365.69" y="220.11" width="2.1" height="2.1" fill="#ff00ff"/><rect x="366.72" y="217.89" width="2.1" height="2.1" fill="#ff00ff"/><rect x="368.20" y="199.85" width="2.1" height="2.1" fill="#ff00ff"/><rect x="369.83" y="179.74" width="2.1" height="2.1" fill="#ff00ff"/><rect x="370.86" y="191.57" width="2.1" height="2.1" fill="#ff00ff"/><rect x="371.90" y="160.96" width="2.1" height="2.1" fill="#ff00ff"/><rect x="374.12" y="177.67" width="2.1" height="2.1" fill="#ff00ff"/><rect x="375.01" y="210.49" width="2.1" height="2.1" fill="#ff00ff"/><rect x="376.04" y="216.70" width="2.1" height="2.1" fill="#ff00ff"/><rect x="377.08" y="217.89" width="2.1" height="2.1" fill="#ff00ff"/><rect x="378.26" y="219.07" width="2.1" height="2.1" fill="#ff00ff"/><rect x="379.44" y="219.66" width="2.1" height="2.1" fill="#ff00ff"/><rect x="380.92" y="215.67" width="2.1" height="2.1" fill="#ff00ff"/><rect x="381.96" y="203.84" width="2.1" height="2.1" fill="#ff00ff"/><rect x="383.14" y="193.78" width="2.1" height="2.1" fill="#ff00ff"/><rect x="384.17" y="172.49" width="2.1" height="2.1" fill="#ff00ff"/><rect x="388.91" y="192.30" width="2.1" height="2.1" fill="#ff00ff"/><rect x="389.79" y="211.23" width="2.1" height="2.1" fill="#ff00ff"/><rect x="390.83" y="215.67" width="2.1" height="2.1" fill="#ff00ff"/><rect x="391.86" y="217.59" width="2.1" height="2.1" fill="#ff00ff"/><rect x="393.05" y="217.15" width="2.1" height="2.1" fill="#ff00ff"/><rect x="394.52" y="210.79" width="2.1" height="2.1" fill="#ff00ff"/><rect x="395.56" y="203.54" width="2.1" height="2.1" fill="#ff00ff"/><rect x="396.45" y="194.97" width="2.1" height="2.1" fill="#ff00ff"/><rect x="397.48" y="171.75" width="2.1" height="2.1" fill="#ff00ff"/><rect x="400.00" y="145.43" width="2.1" height="2.1" fill="#ff00ff"/><rect x="401.18" y="150.60" width="2.1" height="2.1" fill="#ff00ff"/><rect x="402.36" y="199.85" width="2.1" height="2.1" fill="#ff00ff"/><rect x="403.69" y="212.71" width="2.1" height="2.1" fill="#ff00ff"/><rect x="404.88" y="217.15" width="2.1" height="2.1" fill="#ff00ff"/><rect x="406.06" y="217.89" width="2.1" height="2.1" fill="#ff00ff"/><rect x="407.09" y="216.41" width="2.1" height="2.1" fill="#ff00ff"/><rect x="407.83" y="206.80" width="2.1" height="2.1" fill="#ff00ff"/><rect x="408.87" y="204.87" width="2.1" height="2.1" fill="#ff00ff"/><rect x="409.76" y="204.58" width="2.1" height="2.1" fill="#ff00ff"/><rect x="411.23" y="159.92" width="2.1" height="2.1" fill="#ff00ff"/><rect x="413.45" y="148.83" width="2.1" height="2.1" fill="#ff00ff"/><rect x="414.78" y="185.35" width="2.1" height="2.1" fill="#ff00ff"/><rect x="415.67" y="211.23" width="2.1" height="2.1" fill="#ff00ff"/><rect x="416.71" y="215.67" width="2.1" height="2.1" fill="#ff00ff"/><rect x="417.89" y="217.89" width="2.1" height="2.1" fill="#ff00ff"/><rect x="419.37" y="219.37" width="2.1" height="2.1" fill="#ff00ff"/><rect x="420.85" y="218.63" width="2.1" height="2.1" fill="#ff00ff"/><rect x="422.33" y="214.93" width="2.1" height="2.1" fill="#ff00ff"/><rect x="423.80" y="191.57" width="2.1" height="2.1" fill="#ff00ff"/><rect x="424.84" y="152.08" width="2.1" height="2.1" fill="#ff00ff"/><rect x="425.87" y="158.74" width="2.1" height="2.1" fill="#ff00ff"/><rect x="427.06" y="165.39" width="2.1" height="2.1" fill="#ff00ff"/><rect x="428.24" y="185.35" width="2.1" height="2.1" fill="#ff00ff"/><rect x="429.28" y="211.23" width="2.1" height="2.1" fill="#ff00ff"/><rect x="430.75" y="216.41" width="2.1" height="2.1" fill="#ff00ff"/><rect x="431.79" y="217.89" width="2.1" height="2.1" fill="#ff00ff"/><rect x="432.97" y="218.63" width="2.1" height="2.1" fill="#ff00ff"/><rect x="434.16" y="214.93" width="2.1" height="2.1" fill="#ff00ff"/><rect x="435.19" y="207.83" width="2.1" height="2.1" fill="#ff00ff"/><rect x="435.93" y="212.71" width="2.1" height="2.1" fill="#ff00ff"/><rect x="436.96" y="210.49" width="2.1" height="2.1" fill="#ff00ff"/><rect x="437.70" y="196.89" width="2.1" height="2.1" fill="#ff00ff"/><rect x="439.63" y="166.87" width="2.1" height="2.1" fill="#ff00ff"/><rect x="441.55" y="165.10" width="2.1" height="2.1" fill="#ff00ff"/><rect x="442.88" y="207.24" width="2.1" height="2.1" fill="#ff00ff"/><rect x="444.06" y="216.41" width="2.1" height="2.1" fill="#ff00ff"/><rect x="373.16" y="133.20" width="2.1" height="2.1" fill="#ff00ff"/><rect x="386.47" y="54.46" width="2.1" height="2.1" fill="#ff00ff"/><rect x="385.36" y="102.15" width="2.1" height="2.1" fill="#ff00ff"/><rect x="387.57" y="128.10" width="2.1" height="2.1" fill="#ff00ff"/><rect x="398.89" y="140.30" width="2.1" height="2.1" fill="#ff00ff"/><rect x="400.00" y="145.40" width="2.1" height="2.1" fill="#ff00ff"/><rect x="412.20" y="102.81" width="2.1" height="2.1" fill="#ff00ff"/><rect x="413.30" y="148.28" width="2.1" height="2.1" fill="#ff00ff"/><rect x="440.81" y="135.42" width="2.1" height="2.1" fill="#ff00ff"/><rect x="445.69" y="217.59" width="2.1" height="2.1" fill="#ff00ff"/><rect x="446.72" y="217.89" width="2.1" height="2.1" fill="#ff00ff"/><rect x="447.91" y="217.59" width="2.1" height="2.1" fill="#ff00ff"/><rect x="449.39" y="217.15" width="2.1" height="2.1" fill="#ff00ff"/><rect x="450.57" y="216.70" width="2.1" height="2.1" fill="#ff00ff"/><rect x="452.05" y="202.06" width="2.1" height="2.1" fill="#ff00ff"/><rect x="453.08" y="177.67" width="2.1" height="2.1" fill="#ff00ff"/><rect x="453.82" y="189.50" width="2.1" height="2.1" fill="#ff00ff"/><rect x="455.01" y="212.71" width="2.1" height="2.1" fill="#ff00ff"/><rect x="456.48" y="217.89" width="2.1" height="2.1" fill="#ff00ff"/><rect x="457.52" y="218.63" width="2.1" height="2.1" fill="#ff00ff"/><rect x="458.55" y="219.07" width="2.1" height="2.1" fill="#ff00ff"/><rect x="459.74" y="219.37" width="2.1" height="2.1" fill="#ff00ff"/><rect x="460.92" y="218.63" width="2.1" height="2.1" fill="#ff00ff"/><rect x="461.96" y="217.15" width="2.1" height="2.1" fill="#ff00ff"/><rect x="462.99" y="216.41" width="2.1" height="2.1" fill="#ff00ff"/><rect x="464.17" y="215.67" width="2.1" height="2.1" fill="#ff00ff"/><rect x="465.36" y="205.02" width="2.1" height="2.1" fill="#ff00ff"/><rect x="466.69" y="185.06" width="2.1" height="2.1" fill="#ff00ff"/><rect x="467.87" y="173.23" width="2.1" height="2.1" fill="#ff00ff"/><rect x="468.61" y="191.27" width="2.1" height="2.1" fill="#ff00ff"/><rect x="470.09" y="214.19" width="2.1" height="2.1" fill="#ff00ff"/><rect x="471.27" y="217.15" width="2.1" height="2.1" fill="#ff00ff"/><rect x="472.31" y="217.89" width="2.1" height="2.1" fill="#ff00ff"/><rect x="473.34" y="216.41" width="2.1" height="2.1" fill="#ff00ff"/><rect x="474.52" y="214.93" width="2.1" height="2.1" fill="#ff00ff"/><rect x="475.56" y="209.75" width="2.1" height="2.1" fill="#ff00ff"/><rect x="476.74" y="207.83" width="2.1" height="2.1" fill="#ff00ff"/><rect x="478.22" y="202.80" width="2.1" height="2.1" fill="#ff00ff"/><rect x="478.96" y="188.61" width="2.1" height="2.1" fill="#ff00ff"/><rect x="480.00" y="170.27" width="2.1" height="2.1" fill="#ff00ff"/><rect x="481.18" y="175.74" width="2.1" height="2.1" fill="#ff00ff"/><rect x="482.36" y="182.69" width="2.1" height="2.1" fill="#ff00ff"/><rect x="483.69" y="215.67" width="2.1" height="2.1" fill="#ff00ff"/><rect x="484.88" y="217.15" width="2.1" height="2.1" fill="#ff00ff"/><rect x="486.06" y="217.59" width="2.1" height="2.1" fill="#ff00ff"/><rect x="487.09" y="217.15" width="2.1" height="2.1" fill="#ff00ff"/><rect x="488.13" y="216.11" width="2.1" height="2.1" fill="#ff00ff"/><rect x="489.31" y="214.93" width="2.1" height="2.1" fill="#ff00ff"/><rect x="490.79" y="212.27" width="2.1" height="2.1" fill="#ff00ff"/><rect x="492.57" y="200.14" width="2.1" height="2.1" fill="#ff00ff"/><rect x="493.75" y="177.96" width="2.1" height="2.1" fill="#ff00ff"/><rect x="494.78" y="168.79" width="2.1" height="2.1" fill="#ff00ff"/><rect x="495.97" y="177.22" width="2.1" height="2.1" fill="#ff00ff"/><rect x="497.00" y="214.93" width="2.1" height="2.1" fill="#ff00ff"/><rect x="498.18" y="217.15" width="2.1" height="2.1" fill="#ff00ff"/><rect x="499.37" y="217.59" width="2.1" height="2.1" fill="#ff00ff"/><rect x="500.40" y="217.15" width="2.1" height="2.1" fill="#ff00ff"/><rect x="501.88" y="215.67" width="2.1" height="2.1" fill="#ff00ff"/><rect x="503.36" y="213.45" width="2.1" height="2.1" fill="#ff00ff"/><rect x="504.10" y="211.23" width="2.1" height="2.1" fill="#ff00ff"/><rect x="504.84" y="211.23" width="2.1" height="2.1" fill="#ff00ff"/><rect x="505.87" y="202.80" width="2.1" height="2.1" fill="#ff00ff"/><rect x="507.35" y="162.43" width="2.1" height="2.1" fill="#ff00ff"/><rect x="509.28" y="175.45" width="2.1" height="2.1" fill="#ff00ff"/><rect x="510.75" y="217.15" width="2.1" height="2.1" fill="#ff00ff"/><rect x="512.23" y="220.11" width="2.1" height="2.1" fill="#ff00ff"/><rect x="513.27" y="220.11" width="2.1" height="2.1" fill="#ff00ff"/><rect x="514.45" y="219.07" width="2.1" height="2.1" fill="#ff00ff"/><rect x="515.63" y="216.41" width="2.1" height="2.1" fill="#ff00ff"/><rect x="516.67" y="214.19" width="2.1" height="2.1" fill="#ff00ff"/><rect x="517.41" y="209.01" width="2.1" height="2.1" fill="#ff00ff"/><rect x="518.44" y="197.92" width="2.1" height="2.1" fill="#ff00ff"/><rect x="519.63" y="181.21" width="2.1" height="2.1" fill="#ff00ff"/><rect x="520.81" y="182.69" width="2.1" height="2.1" fill="#ff00ff"/><rect x="521.84" y="190.23" width="2.1" height="2.1" fill="#ff00ff"/><rect x="522.88" y="207.83" width="2.1" height="2.1" fill="#ff00ff"/><rect x="524.06" y="217.15" width="2.1" height="2.1" fill="#ff00ff"/><rect x="508.24" y="124.14" width="2.1" height="2.1" fill="#ff00ff"/><rect x="507.35" y="162.44" width="2.1" height="2.1" fill="#ff00ff"/><rect x="523.80" y="217.84" width="2.1" height="2.1" fill="#ff00ff"/>
<line x1="48.5" y1="222.6" x2="48.5" y2="15" stroke="#3a3a3a" stroke-width="1.1"/>
<line x1="48.5" y1="222.6" x2="533" y2="222.6" stroke="#3a3a3a" stroke-width="1.1"/>
<polygon points="45.1,17.8 51.9,17.8 48.5,6.3" fill="#000"/>
<polygon points="530.8,219.4 530.8,225.79999999999998 543.2,222.6" fill="#000"/>
<line x1="48.5" y1="222.60" x2="52.0" y2="222.60" stroke="#444" stroke-width="1.3"/>
<text transform="translate(43.80,226.05) scale(1,1.12)" text-anchor="end" font-size="10" class="b">0</text>
<line x1="48.5" y1="197.81" x2="52.0" y2="197.81" stroke="#444" stroke-width="1.3"/>
<text transform="translate(43.80,201.26) scale(1,1.12)" text-anchor="end" font-size="10" class="b">50</text>
<line x1="48.5" y1="173.03" x2="52.0" y2="173.03" stroke="#444" stroke-width="1.3"/>
<text transform="translate(43.80,176.48) scale(1,1.12)" text-anchor="end" font-size="10" class="b">100</text>
<line x1="48.5" y1="148.25" x2="52.0" y2="148.25" stroke="#444" stroke-width="1.3"/>
<text transform="translate(43.80,151.69) scale(1,1.12)" text-anchor="end" font-size="10" class="b">150</text>
<line x1="48.5" y1="123.46" x2="52.0" y2="123.46" stroke="#444" stroke-width="1.3"/>
<text transform="translate(43.80,126.91) scale(1,1.12)" text-anchor="end" font-size="10" class="b">200</text>
<line x1="48.5" y1="98.67" x2="52.0" y2="98.67" stroke="#444" stroke-width="1.3"/>
<text transform="translate(43.80,102.12) scale(1,1.12)" text-anchor="end" font-size="10" class="b">250</text>
<line x1="48.5" y1="73.89" x2="52.0" y2="73.89" stroke="#444" stroke-width="1.3"/>
<text transform="translate(43.80,77.34) scale(1,1.12)" text-anchor="end" font-size="10" class="b">300</text>
<line x1="48.5" y1="49.10" x2="52.0" y2="49.10" stroke="#444" stroke-width="1.3"/>
<text transform="translate(43.80,52.55) scale(1,1.12)" text-anchor="end" font-size="10" class="b">350</text>
<line x1="48.5" y1="24.32" x2="52.0" y2="24.32" stroke="#444" stroke-width="1.3"/>
<text transform="translate(43.80,27.77) scale(1,1.12)" text-anchor="end" font-size="10" class="b">400</text>
<line x1="48.90" y1="222.6" x2="48.90" y2="220.1" stroke="#333" stroke-width="0.8"/>
<line x1="62.40" y1="222.6" x2="62.40" y2="220.1" stroke="#333" stroke-width="0.8"/>
<line x1="75.90" y1="222.6" x2="75.90" y2="220.1" stroke="#333" stroke-width="0.8"/>
<line x1="89.40" y1="222.6" x2="89.40" y2="220.1" stroke="#333" stroke-width="0.8"/>
<line x1="102.90" y1="222.6" x2="102.90" y2="220.1" stroke="#333" stroke-width="0.8"/>
<line x1="116.40" y1="222.6" x2="116.40" y2="220.1" stroke="#333" stroke-width="0.8"/>
<line x1="129.90" y1="222.6" x2="129.90" y2="220.1" stroke="#333" stroke-width="0.8"/>
<line x1="143.40" y1="222.6" x2="143.40" y2="220.1" stroke="#333" stroke-width="0.8"/>
<line x1="156.90" y1="222.6" x2="156.90" y2="220.1" stroke="#333" stroke-width="0.8"/>
<line x1="170.40" y1="222.6" x2="170.40" y2="220.1" stroke="#333" stroke-width="0.8"/>
<line x1="183.90" y1="222.6" x2="183.90" y2="220.1" stroke="#333" stroke-width="0.8"/>
<line x1="197.40" y1="222.6" x2="197.40" y2="220.1" stroke="#333" stroke-width="0.8"/>
<line x1="210.90" y1="222.6" x2="210.90" y2="220.1" stroke="#333" stroke-width="0.8"/>
<line x1="224.40" y1="222.6" x2="224.40" y2="220.1" stroke="#333" stroke-width="0.8"/>
<line x1="237.90" y1="222.6" x2="237.90" y2="220.1" stroke="#333" stroke-width="0.8"/>
<line x1="251.40" y1="222.6" x2="251.40" y2="220.1" stroke="#333" stroke-width="0.8"/>
<line x1="264.90" y1="222.6" x2="264.90" y2="220.1" stroke="#333" stroke-width="0.8"/>
<line x1="278.40" y1="222.6" x2="278.40" y2="220.1" stroke="#333" stroke-width="0.8"/>
<line x1="291.90" y1="222.6" x2="291.90" y2="220.1" stroke="#333" stroke-width="0.8"/>
<line x1="305.40" y1="222.6" x2="305.40" y2="220.1" stroke="#333" stroke-width="0.8"/>
<line x1="318.90" y1="222.6" x2="318.90" y2="220.1" stroke="#333" stroke-width="0.8"/>
<line x1="332.40" y1="222.6" x2="332.40" y2="220.1" stroke="#333" stroke-width="0.8"/>
<line x1="345.90" y1="222.6" x2="345.90" y2="220.1" stroke="#333" stroke-width="0.8"/>
<line x1="359.40" y1="222.6" x2="359.40" y2="220.1" stroke="#333" stroke-width="0.8"/>
<line x1="372.90" y1="222.6" x2="372.90" y2="220.1" stroke="#333" stroke-width="0.8"/>
<line x1="386.40" y1="222.6" x2="386.40" y2="220.1" stroke="#333" stroke-width="0.8"/>
<line x1="399.90" y1="222.6" x2="399.90" y2="220.1" stroke="#333" stroke-width="0.8"/>
<line x1="413.40" y1="222.6" x2="413.40" y2="220.1" stroke="#333" stroke-width="0.8"/>
<line x1="426.90" y1="222.6" x2="426.90" y2="220.1" stroke="#333" stroke-width="0.8"/>
<line x1="440.40" y1="222.6" x2="440.40" y2="220.1" stroke="#333" stroke-width="0.8"/>
<line x1="453.90" y1="222.6" x2="453.90" y2="220.1" stroke="#333" stroke-width="0.8"/>
<line x1="467.40" y1="222.6" x2="467.40" y2="220.1" stroke="#333" stroke-width="0.8"/>
<line x1="480.90" y1="222.6" x2="480.90" y2="220.1" stroke="#333" stroke-width="0.8"/>
<line x1="494.40" y1="222.6" x2="494.40" y2="220.1" stroke="#333" stroke-width="0.8"/>
<line x1="507.90" y1="222.6" x2="507.90" y2="220.1" stroke="#333" stroke-width="0.8"/>
<line x1="521.40" y1="222.6" x2="521.40" y2="220.1" stroke="#333" stroke-width="0.8"/>
<text transform="translate(48.90,238.40) scale(1,1.14)" text-anchor="middle" font-size="10.2" class="b">1 Jan, 2025</text>
<text transform="translate(116.40,238.40) scale(1,1.14)" text-anchor="middle" font-size="10.2" class="b">1 Jan, 2030</text>
<text transform="translate(197.40,238.40) scale(1,1.14)" text-anchor="middle" font-size="10.2" class="b">1 Jan, 2036</text>
<text transform="translate(278.40,238.40) scale(1,1.14)" text-anchor="middle" font-size="10.2" class="b">1 Jan, 2042</text>
<text transform="translate(359.40,238.40) scale(1,1.14)" text-anchor="middle" font-size="10.2" class="b">1 Jan, 2048</text>
<text transform="translate(440.40,238.40) scale(1,1.14)" text-anchor="middle" font-size="10.2" class="b">1 Jan, 2054</text>
<text transform="translate(521.40,238.40) scale(1,1.14)" text-anchor="middle" font-size="10.2" class="b">1 Jan, 2060</text>
<text transform="translate(287.50,254.00) scale(1,1.08)" text-anchor="middle" font-size="13.7" class="b">Time(Month)</text>
<text class="b" transform="translate(19.6,122.7) rotate(-90) scale(0.975,1)" text-anchor="middle" font-size="14.5">Monthly Streamflow(m<tspan font-size="9.5" dy="-5">3</tspan><tspan dy="5">/s)</tspan></text>
<rect x="55.5" y="18.5" width="126" height="33" fill="#fff" stroke="#222" stroke-width="1"/>
<rect x="69" y="28.2" width="2" height="2" fill="#ff00ff"/>
<rect x="59.7" y="36.9" width="20.4" height="6.7" fill="#bdbdbd"/>
<text transform="translate(84.20,32.90) scale(1,1.08)" font-size="9.3" class="c">Observed Streamflow</text>
<text transform="translate(84.20,43.80) scale(1,1.08)" font-size="9.3" class="c">95% Confidence Interval</text>
<text transform="translate(528.20,26.80) scale(1,1.05)" text-anchor="middle" font-size="14.8" class="b">(c)</text>
<polygon points="48.60,487.49 49.85,488.89 50.10,488.31 50.63,478.23 51.73,478.23 52.35,493.77 52.60,494.39 53.35,494.50 60.85,484.12 62.10,483.49 62.35,483.52 62.60,483.83 62.85,483.61 63.85,471.44 64.38,454.57 65.48,454.57 66.60,488.31 67.35,495.32 67.60,495.90 75.60,491.54 75.85,491.54 76.60,465.27 76.85,444.22 77.90,444.22 78.60,486.24 78.85,491.73 79.60,497.98 79.85,498.94 88.10,498.94 90.10,471.00 90.85,450.94 91.00,439.05 92.10,439.05 92.85,472.51 93.85,493.06 94.10,494.29 95.60,495.97 99.10,495.27 100.85,489.25 101.60,484.75 103.85,445.70 104.35,429.40 104.49,417.01 105.59,417.01 106.10,448.97 107.35,490.05 108.10,498.13 111.85,498.13 114.35,494.42 115.35,491.92 115.60,490.19 117.35,443.11 117.85,417.32 117.95,402.60 119.05,402.60 119.60,447.09 120.85,488.79 121.60,497.66 121.85,498.94 123.60,498.94 125.85,486.47 126.10,489.86 127.35,487.36 127.60,487.23 130.35,489.98 131.10,488.74 131.35,489.02 131.60,484.49 131.85,472.32 132.91,472.32 133.35,490.12 133.60,494.65 135.60,498.18 137.85,498.09 139.35,489.65 141.10,473.97 143.10,429.68 143.85,397.91 144.10,377.99 145.11,377.99 145.85,440.70 147.10,491.10 147.35,494.67 147.60,495.98 151.85,495.98 154.10,491.55 156.35,492.91 157.85,488.59 158.60,470.02 158.72,460.49 159.82,460.49 160.35,479.20 161.10,491.03 161.60,493.75 166.60,493.03 169.10,477.46 170.85,458.61 171.35,447.18 172.39,447.18 173.35,470.18 173.85,486.89 174.60,494.53 179.10,495.94 181.35,477.58 181.60,476.79 181.85,474.81 184.10,381.50 184.60,342.23 184.85,305.01 185.88,305.01 186.60,408.62 187.60,472.84 188.35,490.35 189.35,494.49 195.35,493.06 195.60,492.23 197.10,479.26 197.61,467.88 198.71,467.88 199.85,491.60 200.35,495.95 205.85,494.54 206.10,497.94 209.60,488.84 209.85,488.79 210.35,489.46 210.60,489.57 211.60,471.14 211.85,459.01 212.91,459.01 213.85,493.20 214.85,498.09 222.85,498.20 223.10,497.35 223.85,491.67 224.10,491.47 225.10,470.66 225.41,452.36 226.51,452.36 227.35,491.97 227.60,496.04 228.10,496.62 235.60,491.42 237.10,484.15 238.85,422.17 239.35,391.11 239.64,349.26 240.74,349.26 241.35,429.43 242.35,486.32 242.85,495.32 243.10,497.33 248.85,491.58 250.10,483.03 252.35,447.18 252.90,422.55 254.00,422.55 254.60,461.93 255.35,487.99 256.10,497.39 258.60,495.98 259.85,495.87 265.21,382.90 266.31,382.90 268.60,490.74 268.85,495.99 269.60,498.19 273.35,495.98 274.10,495.98 274.35,495.66 280.35,433.13 281.37,433.13 282.60,490.76 282.85,495.98 285.85,498.09 286.10,498.91 291.10,497.48 291.85,494.76 292.10,494.64 292.35,494.82 293.35,468.82 293.60,450.88 294.68,450.88 295.35,490.78 295.60,497.23 304.35,498.19 305.35,496.03 305.60,496.14 305.85,495.01 306.85,478.70 307.35,459.01 308.44,459.01 309.10,488.20 309.60,497.86 310.35,498.18 315.35,496.08 315.60,495.83 317.10,487.08 317.35,486.93 319.10,443.61 319.60,422.36 319.90,393.23 321.00,393.23 321.60,458.59 322.10,486.33 322.85,496.59 323.10,498.18 330.35,497.46 333.35,498.94 345.10,498.94 345.60,497.14 346.10,493.02 347.18,493.02 347.60,496.91 348.10,498.91 358.35,498.64 359.10,497.87 360.10,498.66 365.85,499.22 366.10,499.65 369.10,498.79 370.35,497.54 371.10,498.52 371.85,494.86 372.10,494.67 372.60,495.14 372.85,493.84 373.60,474.81 373.88,456.05 374.98,456.05 375.85,495.37 376.10,498.42 376.60,498.89 384.35,498.94 385.35,491.62 386.85,426.10 387.35,384.14 387.48,353.11 388.58,353.11 389.35,461.94 389.85,494.19 390.35,494.47 391.10,499.41 391.35,499.61 395.60,498.11 397.85,490.03 398.60,489.60 400.85,461.63 401.38,443.48 402.48,443.48 403.60,488.55 404.35,498.61 404.60,499.63 409.60,498.20 410.60,493.80 410.85,492.04 412.60,458.87 413.10,441.48 413.21,430.18 414.31,430.18 414.85,466.48 415.60,488.92 415.85,491.31 416.35,493.05 423.60,496.67 426.10,493.14 426.35,491.62 427.60,464.59 427.85,449.40 428.95,449.40 429.35,470.45 430.10,486.09 431.10,494.52 435.60,497.41 438.35,496.03 440.10,490.51 440.35,489.28 441.60,465.43 441.90,450.14 443.00,450.14 443.60,480.42 443.85,486.72 445.10,490.03 445.85,490.06 446.10,499.68 452.60,499.68 453.35,497.59 454.10,493.22 455.60,499.64 466.60,499.68 467.60,494.71 468.37,485.63 469.47,485.63 470.10,490.64 471.85,492.98 472.60,498.08 480.85,497.72 481.85,484.41 482.12,473.80 483.22,473.80 483.85,494.57 484.10,498.74 490.35,498.20 493.85,499.59 494.10,499.39 494.85,494.48 495.60,494.19 496.35,479.50 496.47,472.32 497.57,472.32 498.10,486.43 498.60,492.46 498.85,493.15 499.35,493.14 500.85,494.77 502.85,498.77 507.35,498.94 508.60,465.49 509.10,433.87 510.14,433.87 510.60,472.79 511.10,491.73 511.35,496.09 511.60,496.31 512.60,499.65 515.60,498.03 517.60,494.70 520.10,494.39 522.10,493.06 524.35,488.63 525.10,490.04 525.35,490.86 525.35,502.60 511.35,502.60 511.10,502.30 508.10,502.23 507.85,502.60 501.85,502.60 501.35,502.22 495.60,502.22 495.10,502.60 484.35,502.60 484.10,502.22 481.60,502.22 481.10,502.60 472.10,502.60 471.85,502.22 468.35,502.22 467.85,502.60 446.10,502.60 445.85,501.48 440.10,501.48 439.10,502.60 431.60,502.60 431.35,502.33 431.10,501.58 430.85,501.48 425.10,501.53 424.35,502.22 411.10,502.22 410.85,502.52 403.85,502.56 403.60,502.22 397.85,502.22 397.35,502.57 390.60,502.60 390.35,502.22 385.60,502.22 385.35,502.51 376.35,502.60 375.85,502.22 372.35,502.22 371.85,502.60 322.60,502.59 322.10,501.48 317.10,501.48 316.35,502.53 310.10,502.60 309.60,501.48 305.60,501.48 304.85,502.60 295.60,502.60 295.10,501.48 292.35,501.48 291.60,502.60 283.10,502.60 282.60,501.48 274.35,501.48 273.60,502.60 269.60,502.60 269.35,502.08 268.85,499.28 260.10,499.26 259.10,502.60 256.10,502.60 255.60,501.64 255.35,501.48 250.35,501.49 249.35,502.60 242.60,502.44 242.10,501.48 237.10,501.48 236.35,502.53 228.35,502.60 227.85,501.48 223.85,501.48 223.35,502.60 214.60,502.60 214.10,500.74 211.10,500.83 209.60,502.52 200.60,502.60 199.85,501.48 196.60,501.58 195.85,502.52 188.85,502.60 188.10,500.00 180.85,500.00 180.60,500.28 179.60,502.60 174.85,502.60 174.10,499.46 173.85,499.26 169.60,499.29 168.10,501.48 152.60,501.53 152.10,502.60 147.10,502.60 146.60,501.48 139.60,501.49 139.10,502.56 133.85,502.60 133.35,501.48 126.10,502.60 125.85,500.13 123.10,502.50 121.35,502.60 120.60,501.48 113.35,501.48 112.60,502.50 108.10,502.60 107.85,502.15 107.35,499.26 102.10,499.44 100.60,502.22 94.85,502.51 94.10,501.53 89.10,501.65 88.60,502.60 79.85,502.60 79.35,501.05 79.10,500.74 76.35,500.74 75.60,502.45 67.60,502.51 67.35,501.74 66.60,496.30 64.60,496.30 64.35,496.66 62.35,501.99 62.10,502.22 48.60,501.57" fill="#c2c2c2" stroke="#acacac" stroke-width="0.5" stroke-linejoin="round"/><polygon points="63.85,493.63 64.10,492.03 64.35,490.47 64.60,489.06 64.85,487.32 65.10,488.35 65.35,489.93 65.60,491.11 65.60,492.30 65.35,492.30 65.10,492.30 64.85,492.30 64.60,492.30 64.35,492.66 64.10,493.33 63.85,493.99" fill="#f4f4f4"/><polygon points="76.85,494.53 77.10,492.02 77.35,486.81 77.60,492.03 77.85,494.54 77.85,496.74 77.60,496.74 77.35,496.74 77.10,496.74 76.85,496.74" fill="#f4f4f4"/><polygon points="90.35,496.13 90.60,494.88 90.85,493.48 91.10,491.83 91.35,489.66 91.60,487.90 91.85,491.09 92.10,493.13 92.35,494.78 92.60,496.21 92.60,497.48 92.35,497.48 92.10,497.48 91.85,497.48 91.60,497.48 91.35,497.48 91.10,497.48 90.85,497.48 90.60,497.48 90.35,497.48" fill="#f4f4f4"/><polygon points="103.35,494.58 103.60,493.24 103.85,491.79 104.10,490.20 104.35,488.40 104.60,486.27 104.85,483.46 105.10,481.78 105.35,486.24 105.60,489.13 105.85,491.47 106.10,493.50 106.10,495.26 105.85,495.26 105.60,495.26 105.35,495.26 105.10,495.26 104.85,495.26 104.60,495.26 104.35,495.26 104.10,495.26 103.85,495.26 103.60,495.26 103.35,495.26" fill="#f4f4f4"/><polygon points="117.10,495.80 117.35,493.84 117.60,491.68 117.85,489.22 118.10,486.27 118.35,482.25 118.60,481.94 118.85,486.89 119.10,490.35 119.35,493.20 119.60,495.69 119.60,497.48 119.35,497.48 119.10,497.48 118.85,497.48 118.60,497.48 118.35,497.48 118.10,497.48 117.85,497.48 117.60,497.48 117.35,497.48 117.10,497.48" fill="#f4f4f4"/><polygon points="132.10,496.43 132.35,494.53 132.60,496.09 132.85,497.01 132.85,497.48 132.60,497.48 132.35,497.48 132.10,497.48" fill="#f4f4f4"/><polygon points="142.85,495.58 143.10,493.49 143.35,491.25 143.60,488.77 143.85,485.99 144.10,482.71 144.35,478.45 144.60,474.66 144.85,482.41 145.10,487.20 145.35,491.05 145.60,494.38 145.60,497.48 145.35,497.48 145.10,497.48 144.85,497.48 144.60,497.48 144.35,497.48 144.10,497.48 143.85,497.48 143.60,497.48 143.35,497.48 143.10,497.48 142.85,497.48" fill="#f4f4f4"/><polygon points="158.60,496.98 158.85,495.68 159.10,493.95 159.35,492.85 159.60,494.79 159.85,496.10 160.10,497.16 160.10,497.48 159.85,497.48 159.60,497.48 159.35,497.48 159.10,497.48 158.85,497.48 158.60,497.48" fill="#f4f4f4"/><polygon points="170.60,494.58 170.85,493.61 171.10,492.52 171.35,491.25 171.60,489.62 171.85,486.90 172.10,490.44 172.35,492.32 172.60,493.82 172.60,495.26 172.35,495.26 172.10,495.26 171.85,495.26 171.60,495.26 171.35,495.26 171.10,495.26 170.85,495.26 170.60,495.26" fill="#f4f4f4"/><polygon points="183.60,493.18 183.85,489.74 184.10,486.03 184.35,481.96 184.60,477.39 184.85,472.05 185.10,465.20 185.35,455.15 185.60,469.92 185.85,478.14 186.10,484.67 186.35,490.29 186.60,495.32 186.60,496.00 186.35,496.00 186.10,496.00 185.85,496.00 185.60,496.00 185.35,496.00 185.10,496.00 184.85,496.00 184.60,496.00 184.35,496.00 184.10,496.00 183.85,496.00 183.60,496.00" fill="#f4f4f4"/><polygon points="197.35,497.06 197.60,496.33 197.85,495.43 198.10,494.05 198.35,494.92 198.60,496.02 198.85,496.85 198.85,497.48 198.60,497.48 198.35,497.48 198.10,497.48 197.85,497.48 197.60,497.48 197.35,497.48" fill="#f4f4f4"/><polygon points="211.60,495.90 211.85,494.80 212.10,493.40 212.35,490.78 212.60,493.53 212.85,495.08 213.10,496.29 213.10,496.74 212.85,496.74 212.60,496.74 212.35,496.74 212.10,496.74 211.85,496.74 211.60,496.74" fill="#f4f4f4"/><polygon points="225.10,496.67 225.35,495.38 225.60,493.84 225.85,491.64 226.10,492.24 226.35,494.58 226.60,496.28 226.60,497.48 226.35,497.48 226.10,497.48 225.85,497.48 225.60,497.48 225.35,497.48 225.10,497.48" fill="#f4f4f4"/><polygon points="238.60,497.01 238.85,493.99 239.10,490.70 239.35,487.05 239.60,482.86 239.85,477.74 240.10,470.21 240.35,474.95 240.60,482.63 240.85,488.33 241.10,493.12 241.10,497.48 240.85,497.48 240.60,497.48 240.35,497.48 240.10,497.48 239.85,497.48 239.60,497.48 239.35,497.48 239.10,497.48 238.85,497.48 238.60,497.48" fill="#f4f4f4"/><polygon points="251.85,496.39 252.10,495.08 252.35,493.66 252.60,492.08 252.85,490.28 253.10,488.09 253.35,484.92 253.60,487.18 253.85,491.05 254.10,493.89 254.35,496.27 254.35,497.48 254.10,497.48 253.85,497.48 253.60,497.48 253.35,497.48 253.10,497.48 252.85,497.48 252.60,497.48 252.35,497.48 252.10,497.48 251.85,497.48" fill="#f4f4f4"/><polygon points="262.60,494.57 262.85,492.73 263.10,490.89 263.35,489.03 263.60,487.17 263.85,485.29 264.10,483.41 264.35,481.51 264.60,479.59 264.85,477.65 265.10,475.68 265.35,473.67 265.60,471.60 265.85,471.78 266.10,475.85 266.35,479.75 266.60,483.57 266.85,487.33 267.10,491.04 267.35,494.73 267.35,495.26 267.10,495.26 266.85,495.26 266.60,495.26 266.35,495.26 266.10,495.26 265.85,495.26 265.60,495.26 265.35,495.26 265.10,495.26 264.85,495.26 264.60,495.26 264.35,495.26 264.10,495.26 263.85,495.26 263.60,495.26 263.35,495.26 263.10,495.26 262.85,495.26 262.60,495.26" fill="#f4f4f4"/><polygon points="277.35,497.11 277.60,496.24 277.85,495.37 278.10,494.49 278.35,493.61 278.60,492.72 278.85,491.83 279.10,490.93 279.35,490.03 279.60,489.11 279.85,488.19 280.10,487.26 280.35,486.31 280.60,485.33 280.85,484.78 281.10,488.09 281.35,491.23 281.60,494.28 281.60,497.48 281.35,497.48 281.10,497.48 280.85,497.48 280.60,497.48 280.35,497.48 280.10,497.48 279.85,497.48 279.60,497.48 279.35,497.48 279.10,497.48 278.85,497.48 278.60,497.48 278.35,497.48 278.10,497.48 277.85,497.48 277.60,497.48 277.35,497.48" fill="#f4f4f4"/><polygon points="293.35,496.49 293.60,495.03 293.85,493.21 294.10,490.17 294.35,493.10 294.60,495.35 294.85,497.08 294.85,497.48 294.60,497.48 294.35,497.48 294.10,497.48 293.85,497.48 293.60,497.48 293.35,497.48" fill="#f4f4f4"/><polygon points="306.85,497.04 307.10,496.17 307.35,495.16 307.60,493.90 307.85,491.83 308.10,493.85 308.35,495.43 308.60,496.65 308.60,497.48 308.35,497.48 308.10,497.48 307.85,497.48 307.60,497.48 307.35,497.48 307.10,497.48 306.85,497.48" fill="#f4f4f4"/><polygon points="319.10,495.19 319.35,492.97 319.60,490.51 319.85,487.68 320.10,484.25 320.35,479.26 320.60,483.11 320.85,489.17 321.10,493.64 321.10,497.48 320.85,497.48 320.60,497.48 320.35,497.48 320.10,497.48 319.85,497.48 319.60,497.48 319.35,497.48 319.10,497.48" fill="#f4f4f4"/><polygon points="373.60,497.83 373.85,496.55 374.10,494.98 374.35,492.64 374.60,493.81 374.85,495.81 375.10,497.32 375.10,498.22 374.85,498.22 374.60,498.22 374.35,498.22 374.10,498.22 373.85,498.22 373.60,498.22" fill="#f4f4f4"/><polygon points="386.85,494.91 387.10,491.24 387.35,487.10 387.60,482.18 387.85,475.68 388.10,472.55 388.35,482.86 388.60,489.62 388.85,495.11 388.85,498.22 388.60,498.22 388.35,498.22 388.10,498.22 387.85,498.22 387.60,498.22 387.35,498.22 387.10,498.22 386.85,498.22" fill="#f4f4f4"/><polygon points="400.35,497.42 400.60,496.53 400.85,495.56 401.10,494.48 401.35,493.24 401.60,491.73 401.85,489.49 402.10,491.57 402.35,494.22 402.60,496.19 402.85,497.85 402.85,498.22 402.60,498.22 402.35,498.22 402.10,498.22 401.85,498.22 401.60,498.22 401.35,498.22 401.10,498.22 400.85,498.22 400.60,498.22 400.35,498.22" fill="#f4f4f4"/><polygon points="412.35,497.17 412.60,495.86 412.85,494.41 413.10,492.76 413.35,490.80 413.60,488.16 413.85,487.77 414.10,491.73 414.35,494.43 414.60,496.63 414.60,498.22 414.35,498.22 414.10,498.22 413.85,498.22 413.60,498.22 413.35,498.22 413.10,498.22 412.85,498.22 412.60,498.22 412.35,498.22" fill="#f4f4f4"/><polygon points="427.35,496.96 427.60,495.79 427.85,494.43 428.10,492.74 428.35,490.10 428.60,492.20 428.85,494.33 429.10,495.95 429.10,497.48 428.85,497.48 428.60,497.48 428.35,497.48 428.10,497.48 427.85,497.48 427.60,497.48 427.35,497.48" fill="#f4f4f4"/><polygon points="441.60,496.05 441.85,494.76 442.10,493.20 442.35,490.94 442.60,492.19 442.85,494.75 443.10,496.62 443.10,497.48 442.85,497.48 442.60,497.48 442.35,497.48 442.10,497.48 441.85,497.48 441.60,497.48" fill="#f4f4f4"/><polygon points="482.10,497.43 482.35,496.80 482.60,495.86 482.85,496.48 483.10,497.34 483.10,498.22 482.85,498.22 482.60,498.22 482.35,498.22 482.10,498.22" fill="#f4f4f4"/><polygon points="496.60,497.20 496.85,496.23 497.10,495.67 497.35,496.74 497.60,497.46 497.60,498.22 497.35,498.22 497.10,498.22 496.85,498.22 496.60,498.22" fill="#f4f4f4"/><polygon points="508.60,497.03 508.85,495.27 509.10,493.20 509.35,490.55 509.60,486.45 509.85,491.75 510.10,494.68 510.35,497.01 510.35,498.22 510.10,498.22 509.85,498.22 509.60,498.22 509.35,498.22 509.10,498.22 508.85,498.22 508.60,498.22" fill="#f4f4f4"/><rect x="47.17" y="487.54" width="2.1" height="2.1" fill="#0000ff"/><rect x="48.20" y="484.87" width="2.1" height="2.1" fill="#0000ff"/><rect x="49.68" y="475.71" width="2.1" height="2.1" fill="#0000ff"/><rect x="50.86" y="476.45" width="2.1" height="2.1" fill="#0000ff"/><rect x="51.60" y="492.71" width="2.1" height="2.1" fill="#0000ff"/><rect x="52.64" y="495.67" width="2.1" height="2.1" fill="#0000ff"/><rect x="53.82" y="494.63" width="2.1" height="2.1" fill="#0000ff"/><rect x="55.01" y="493.45" width="2.1" height="2.1" fill="#0000ff"/><rect x="56.48" y="490.79" width="2.1" height="2.1" fill="#0000ff"/><rect x="57.96" y="489.01" width="2.1" height="2.1" fill="#0000ff"/><rect x="59.44" y="484.58" width="2.1" height="2.1" fill="#0000ff"/><rect x="60.48" y="483.54" width="2.1" height="2.1" fill="#0000ff"/><rect x="61.51" y="479.85" width="2.1" height="2.1" fill="#0000ff"/><rect x="62.99" y="460.62" width="2.1" height="2.1" fill="#0000ff"/><rect x="63.88" y="451.75" width="2.1" height="2.1" fill="#0000ff"/><rect x="64.91" y="489.01" width="2.1" height="2.1" fill="#0000ff"/><rect x="66.39" y="497.15" width="2.1" height="2.1" fill="#0000ff"/><rect x="67.43" y="498.63" width="2.1" height="2.1" fill="#0000ff"/><rect x="68.61" y="497.89" width="2.1" height="2.1" fill="#0000ff"/><rect x="69.79" y="496.41" width="2.1" height="2.1" fill="#0000ff"/><rect x="71.12" y="492.71" width="2.1" height="2.1" fill="#0000ff"/><rect x="72.31" y="493.45" width="2.1" height="2.1" fill="#0000ff"/><rect x="73.79" y="494.19" width="2.1" height="2.1" fill="#0000ff"/><rect x="75.26" y="473.49" width="2.1" height="2.1" fill="#0000ff"/><rect x="76.30" y="444.21" width="2.1" height="2.1" fill="#0000ff"/><rect x="77.78" y="472.45" width="2.1" height="2.1" fill="#0000ff"/><rect x="78.67" y="498.63" width="2.1" height="2.1" fill="#0000ff"/><rect x="80.14" y="500.11" width="2.1" height="2.1" fill="#0000ff"/><rect x="81.62" y="500.84" width="2.1" height="2.1" fill="#0000ff"/><rect x="83.10" y="498.63" width="2.1" height="2.1" fill="#0000ff"/><rect x="84.58" y="496.41" width="2.1" height="2.1" fill="#0000ff"/><rect x="86.06" y="494.63" width="2.1" height="2.1" fill="#0000ff"/><rect x="87.09" y="491.97" width="2.1" height="2.1" fill="#0000ff"/><rect x="87.83" y="488.28" width="2.1" height="2.1" fill="#0000ff"/><rect x="88.87" y="480.14" width="2.1" height="2.1" fill="#0000ff"/><rect x="89.76" y="451.75" width="2.1" height="2.1" fill="#0000ff"/><rect x="91.09" y="436.82" width="2.1" height="2.1" fill="#0000ff"/><rect x="91.97" y="486.80" width="2.1" height="2.1" fill="#0000ff"/><rect x="94.19" y="497.15" width="2.1" height="2.1" fill="#0000ff"/><rect x="95.67" y="497.59" width="2.1" height="2.1" fill="#0000ff"/><rect x="97.00" y="497.59" width="2.1" height="2.1" fill="#0000ff"/><rect x="98.18" y="496.41" width="2.1" height="2.1" fill="#0000ff"/><rect x="99.37" y="494.93" width="2.1" height="2.1" fill="#0000ff"/><rect x="100.40" y="492.71" width="2.1" height="2.1" fill="#0000ff"/><rect x="101.44" y="491.23" width="2.1" height="2.1" fill="#0000ff"/><rect x="102.33" y="470.97" width="2.1" height="2.1" fill="#0000ff"/><rect x="103.66" y="426.61" width="2.1" height="2.1" fill="#0000ff"/><rect x="104.40" y="429.86" width="2.1" height="2.1" fill="#0000ff"/><rect x="105.58" y="481.62" width="2.1" height="2.1" fill="#0000ff"/><rect x="106.76" y="496.41" width="2.1" height="2.1" fill="#0000ff"/><rect x="107.80" y="500.84" width="2.1" height="2.1" fill="#0000ff"/><rect x="108.83" y="500.84" width="2.1" height="2.1" fill="#0000ff"/><rect x="110.01" y="498.63" width="2.1" height="2.1" fill="#0000ff"/><rect x="111.20" y="496.41" width="2.1" height="2.1" fill="#0000ff"/><rect x="112.23" y="495.96" width="2.1" height="2.1" fill="#0000ff"/><rect x="113.27" y="496.11" width="2.1" height="2.1" fill="#0000ff"/><rect x="114.45" y="492.71" width="2.1" height="2.1" fill="#0000ff"/><rect x="115.93" y="461.66" width="2.1" height="2.1" fill="#0000ff"/><rect x="118.89" y="470.23" width="2.1" height="2.1" fill="#0000ff"/><rect x="121.11" y="499.37" width="2.1" height="2.1" fill="#0000ff"/><rect x="122.58" y="497.15" width="2.1" height="2.1" fill="#0000ff"/><rect x="124.06" y="492.71" width="2.1" height="2.1" fill="#0000ff"/><rect x="124.80" y="487.83" width="2.1" height="2.1" fill="#0000ff"/><rect x="117.04" y="399.77" width="2.1" height="2.1" fill="#0000ff"/><rect x="117.70" y="406.65" width="2.1" height="2.1" fill="#0000ff"/><rect x="125.69" y="483.10" width="2.1" height="2.1" fill="#0000ff"/><rect x="126.43" y="487.54" width="2.1" height="2.1" fill="#0000ff"/><rect x="127.17" y="490.49" width="2.1" height="2.1" fill="#0000ff"/><rect x="128.20" y="497.15" width="2.1" height="2.1" fill="#0000ff"/><rect x="129.39" y="497.59" width="2.1" height="2.1" fill="#0000ff"/><rect x="130.13" y="479.40" width="2.1" height="2.1" fill="#0000ff"/><rect x="131.31" y="457.67" width="2.1" height="2.1" fill="#0000ff"/><rect x="132.34" y="486.35" width="2.1" height="2.1" fill="#0000ff"/><rect x="133.53" y="496.70" width="2.1" height="2.1" fill="#0000ff"/><rect x="134.56" y="499.37" width="2.1" height="2.1" fill="#0000ff"/><rect x="135.60" y="500.11" width="2.1" height="2.1" fill="#0000ff"/><rect x="136.78" y="499.37" width="2.1" height="2.1" fill="#0000ff"/><rect x="137.96" y="490.20" width="2.1" height="2.1" fill="#0000ff"/><rect x="139.00" y="478.66" width="2.1" height="2.1" fill="#0000ff"/><rect x="140.03" y="469.79" width="2.1" height="2.1" fill="#0000ff"/><rect x="141.51" y="470.09" width="2.1" height="2.1" fill="#0000ff"/><rect x="142.69" y="441.99" width="2.1" height="2.1" fill="#0000ff"/><rect x="144.62" y="454.56" width="2.1" height="2.1" fill="#0000ff"/><rect x="146.39" y="490.49" width="2.1" height="2.1" fill="#0000ff"/><rect x="147.43" y="498.63" width="2.1" height="2.1" fill="#0000ff"/><rect x="148.31" y="500.11" width="2.1" height="2.1" fill="#0000ff"/><rect x="149.35" y="499.37" width="2.1" height="2.1" fill="#0000ff"/><rect x="150.83" y="494.63" width="2.1" height="2.1" fill="#0000ff"/><rect x="152.01" y="493.45" width="2.1" height="2.1" fill="#0000ff"/><rect x="153.05" y="492.27" width="2.1" height="2.1" fill="#0000ff"/><rect x="154.23" y="494.63" width="2.1" height="2.1" fill="#0000ff"/><rect x="155.26" y="496.41" width="2.1" height="2.1" fill="#0000ff"/><rect x="156.30" y="493.45" width="2.1" height="2.1" fill="#0000ff"/><rect x="157.48" y="486.80" width="2.1" height="2.1" fill="#0000ff"/><rect x="158.52" y="474.23" width="2.1" height="2.1" fill="#0000ff"/><rect x="159.70" y="491.23" width="2.1" height="2.1" fill="#0000ff"/><rect x="161.18" y="492.71" width="2.1" height="2.1" fill="#0000ff"/><rect x="162.66" y="493.16" width="2.1" height="2.1" fill="#0000ff"/><rect x="163.69" y="494.19" width="2.1" height="2.1" fill="#0000ff"/><rect x="164.88" y="491.23" width="2.1" height="2.1" fill="#0000ff"/><rect x="166.06" y="486.06" width="2.1" height="2.1" fill="#0000ff"/><rect x="167.09" y="480.14" width="2.1" height="2.1" fill="#0000ff"/><rect x="168.13" y="476.89" width="2.1" height="2.1" fill="#0000ff"/><rect x="169.76" y="463.88" width="2.1" height="2.1" fill="#0000ff"/><rect x="170.79" y="438.00" width="2.1" height="2.1" fill="#0000ff"/><rect x="171.97" y="449.38" width="2.1" height="2.1" fill="#0000ff"/><rect x="173.45" y="493.16" width="2.1" height="2.1" fill="#0000ff"/><rect x="174.49" y="496.41" width="2.1" height="2.1" fill="#0000ff"/><rect x="175.67" y="497.15" width="2.1" height="2.1" fill="#0000ff"/><rect x="176.71" y="496.41" width="2.1" height="2.1" fill="#0000ff"/><rect x="177.89" y="494.63" width="2.1" height="2.1" fill="#0000ff"/><rect x="178.92" y="490.20" width="2.1" height="2.1" fill="#0000ff"/><rect x="179.96" y="485.76" width="2.1" height="2.1" fill="#0000ff"/><rect x="180.85" y="476.45" width="2.1" height="2.1" fill="#0000ff"/><rect x="181.88" y="452.49" width="2.1" height="2.1" fill="#0000ff"/><rect x="186.76" y="483.84" width="2.1" height="2.1" fill="#0000ff"/><rect x="187.80" y="492.71" width="2.1" height="2.1" fill="#0000ff"/><rect x="188.83" y="493.45" width="2.1" height="2.1" fill="#0000ff"/><rect x="190.01" y="494.63" width="2.1" height="2.1" fill="#0000ff"/><rect x="191.20" y="495.67" width="2.1" height="2.1" fill="#0000ff"/><rect x="192.23" y="494.93" width="2.1" height="2.1" fill="#0000ff"/><rect x="193.27" y="493.45" width="2.1" height="2.1" fill="#0000ff"/><rect x="194.16" y="491.23" width="2.1" height="2.1" fill="#0000ff"/><rect x="195.63" y="484.58" width="2.1" height="2.1" fill="#0000ff"/><rect x="196.96" y="475.41" width="2.1" height="2.1" fill="#0000ff"/><rect x="197.70" y="478.96" width="2.1" height="2.1" fill="#0000ff"/><rect x="198.89" y="491.97" width="2.1" height="2.1" fill="#0000ff"/><rect x="200.07" y="496.41" width="2.1" height="2.1" fill="#0000ff"/><rect x="201.11" y="497.89" width="2.1" height="2.1" fill="#0000ff"/><rect x="202.58" y="498.18" width="2.1" height="2.1" fill="#0000ff"/><rect x="204.06" y="497.15" width="2.1" height="2.1" fill="#0000ff"/><rect x="143.58" y="400.23" width="2.1" height="2.1" fill="#0000ff"/><rect x="184.47" y="313.02" width="2.1" height="2.1" fill="#0000ff"/><rect x="183.18" y="372.28" width="2.1" height="2.1" fill="#0000ff"/><rect x="185.25" y="379.52" width="2.1" height="2.1" fill="#0000ff"/><rect x="205.39" y="495.23" width="2.1" height="2.1" fill="#0000ff"/><rect x="206.43" y="494.93" width="2.1" height="2.1" fill="#0000ff"/><rect x="207.61" y="494.63" width="2.1" height="2.1" fill="#0000ff"/><rect x="208.65" y="487.83" width="2.1" height="2.1" fill="#0000ff"/><rect x="210.13" y="473.49" width="2.1" height="2.1" fill="#0000ff"/><rect x="211.31" y="467.13" width="2.1" height="2.1" fill="#0000ff"/><rect x="212.34" y="477.63" width="2.1" height="2.1" fill="#0000ff"/><rect x="213.82" y="496.41" width="2.1" height="2.1" fill="#0000ff"/><rect x="215.01" y="497.89" width="2.1" height="2.1" fill="#0000ff"/><rect x="216.04" y="499.07" width="2.1" height="2.1" fill="#0000ff"/><rect x="217.52" y="499.66" width="2.1" height="2.1" fill="#0000ff"/><rect x="219.00" y="500.11" width="2.1" height="2.1" fill="#0000ff"/><rect x="220.48" y="500.11" width="2.1" height="2.1" fill="#0000ff"/><rect x="221.51" y="499.37" width="2.1" height="2.1" fill="#0000ff"/><rect x="222.69" y="496.41" width="2.1" height="2.1" fill="#0000ff"/><rect x="223.73" y="478.66" width="2.1" height="2.1" fill="#0000ff"/><rect x="224.91" y="454.71" width="2.1" height="2.1" fill="#0000ff"/><rect x="226.10" y="473.49" width="2.1" height="2.1" fill="#0000ff"/><rect x="227.13" y="499.37" width="2.1" height="2.1" fill="#0000ff"/><rect x="228.31" y="500.11" width="2.1" height="2.1" fill="#0000ff"/><rect x="229.79" y="500.11" width="2.1" height="2.1" fill="#0000ff"/><rect x="231.27" y="499.37" width="2.1" height="2.1" fill="#0000ff"/><rect x="232.75" y="496.85" width="2.1" height="2.1" fill="#0000ff"/><rect x="233.79" y="492.71" width="2.1" height="2.1" fill="#0000ff"/><rect x="234.97" y="491.97" width="2.1" height="2.1" fill="#0000ff"/><rect x="236.00" y="487.83" width="2.1" height="2.1" fill="#0000ff"/><rect x="237.19" y="465.06" width="2.1" height="2.1" fill="#0000ff"/><rect x="240.74" y="455.74" width="2.1" height="2.1" fill="#0000ff"/><rect x="241.92" y="497.89" width="2.1" height="2.1" fill="#0000ff"/><rect x="243.10" y="499.66" width="2.1" height="2.1" fill="#0000ff"/><rect x="244.14" y="499.37" width="2.1" height="2.1" fill="#0000ff"/><rect x="245.17" y="497.89" width="2.1" height="2.1" fill="#0000ff"/><rect x="246.35" y="496.41" width="2.1" height="2.1" fill="#0000ff"/><rect x="247.54" y="492.71" width="2.1" height="2.1" fill="#0000ff"/><rect x="248.57" y="491.97" width="2.1" height="2.1" fill="#0000ff"/><rect x="249.61" y="485.76" width="2.1" height="2.1" fill="#0000ff"/><rect x="250.79" y="463.14" width="2.1" height="2.1" fill="#0000ff"/><rect x="253.75" y="480.59" width="2.1" height="2.1" fill="#0000ff"/><rect x="255.23" y="499.37" width="2.1" height="2.1" fill="#0000ff"/><rect x="256.41" y="500.55" width="2.1" height="2.1" fill="#0000ff"/><rect x="257.45" y="500.11" width="2.1" height="2.1" fill="#0000ff"/><rect x="258.48" y="497.89" width="2.1" height="2.1" fill="#0000ff"/><rect x="259.66" y="480.88" width="2.1" height="2.1" fill="#0000ff"/><rect x="260.85" y="445.39" width="2.1" height="2.1" fill="#0000ff"/><rect x="261.88" y="424.69" width="2.1" height="2.1" fill="#0000ff"/><rect x="263.36" y="433.56" width="2.1" height="2.1" fill="#0000ff"/><rect x="266.76" y="425.72" width="2.1" height="2.1" fill="#0000ff"/><rect x="267.80" y="491.68" width="2.1" height="2.1" fill="#0000ff"/><rect x="268.83" y="498.63" width="2.1" height="2.1" fill="#0000ff"/><rect x="270.01" y="499.37" width="2.1" height="2.1" fill="#0000ff"/><rect x="271.20" y="498.63" width="2.1" height="2.1" fill="#0000ff"/><rect x="272.23" y="496.11" width="2.1" height="2.1" fill="#0000ff"/><rect x="273.27" y="486.06" width="2.1" height="2.1" fill="#0000ff"/><rect x="274.16" y="477.48" width="2.1" height="2.1" fill="#0000ff"/><rect x="275.19" y="473.04" width="2.1" height="2.1" fill="#0000ff"/><rect x="276.67" y="468.31" width="2.1" height="2.1" fill="#0000ff"/><rect x="277.70" y="455.74" width="2.1" height="2.1" fill="#0000ff"/><rect x="280.07" y="431.05" width="2.1" height="2.1" fill="#0000ff"/><rect x="281.11" y="487.83" width="2.1" height="2.1" fill="#0000ff"/><rect x="282.14" y="499.37" width="2.1" height="2.1" fill="#0000ff"/><rect x="283.32" y="499.66" width="2.1" height="2.1" fill="#0000ff"/><rect x="284.51" y="497.89" width="2.1" height="2.1" fill="#0000ff"/><rect x="239.31" y="344.61" width="2.1" height="2.1" fill="#0000ff"/><rect x="238.11" y="386.66" width="2.1" height="2.1" fill="#0000ff"/><rect x="251.81" y="416.69" width="2.1" height="2.1" fill="#0000ff"/><rect x="253.01" y="418.38" width="2.1" height="2.1" fill="#0000ff"/><rect x="265.02" y="378.25" width="2.1" height="2.1" fill="#0000ff"/><rect x="264.30" y="403.48" width="2.1" height="2.1" fill="#0000ff"/><rect x="261.90" y="424.62" width="2.1" height="2.1" fill="#0000ff"/><rect x="266.71" y="425.59" width="2.1" height="2.1" fill="#0000ff"/><rect x="278.72" y="415.01" width="2.1" height="2.1" fill="#0000ff"/><rect x="285.69" y="497.89" width="2.1" height="2.1" fill="#0000ff"/><rect x="286.72" y="498.63" width="2.1" height="2.1" fill="#0000ff"/><rect x="287.91" y="499.37" width="2.1" height="2.1" fill="#0000ff"/><rect x="289.09" y="499.07" width="2.1" height="2.1" fill="#0000ff"/><rect x="290.13" y="497.89" width="2.1" height="2.1" fill="#0000ff"/><rect x="291.16" y="481.92" width="2.1" height="2.1" fill="#0000ff"/><rect x="292.34" y="443.91" width="2.1" height="2.1" fill="#0000ff"/><rect x="293.53" y="456.19" width="2.1" height="2.1" fill="#0000ff"/><rect x="294.56" y="497.89" width="2.1" height="2.1" fill="#0000ff"/><rect x="295.60" y="499.66" width="2.1" height="2.1" fill="#0000ff"/><rect x="296.78" y="500.11" width="2.1" height="2.1" fill="#0000ff"/><rect x="297.96" y="499.37" width="2.1" height="2.1" fill="#0000ff"/><rect x="299.00" y="498.63" width="2.1" height="2.1" fill="#0000ff"/><rect x="300.03" y="499.37" width="2.1" height="2.1" fill="#0000ff"/><rect x="301.22" y="499.66" width="2.1" height="2.1" fill="#0000ff"/><rect x="302.40" y="499.07" width="2.1" height="2.1" fill="#0000ff"/><rect x="303.43" y="497.89" width="2.1" height="2.1" fill="#0000ff"/><rect x="304.47" y="487.54" width="2.1" height="2.1" fill="#0000ff"/><rect x="305.95" y="453.23" width="2.1" height="2.1" fill="#0000ff"/><rect x="307.13" y="446.57" width="2.1" height="2.1" fill="#0000ff"/><rect x="308.31" y="486.80" width="2.1" height="2.1" fill="#0000ff"/><rect x="309.35" y="497.59" width="2.1" height="2.1" fill="#0000ff"/><rect x="310.38" y="500.11" width="2.1" height="2.1" fill="#0000ff"/><rect x="311.57" y="500.55" width="2.1" height="2.1" fill="#0000ff"/><rect x="312.75" y="500.11" width="2.1" height="2.1" fill="#0000ff"/><rect x="313.79" y="498.63" width="2.1" height="2.1" fill="#0000ff"/><rect x="314.82" y="494.93" width="2.1" height="2.1" fill="#0000ff"/><rect x="315.71" y="485.76" width="2.1" height="2.1" fill="#0000ff"/><rect x="317.19" y="474.67" width="2.1" height="2.1" fill="#0000ff"/><rect x="317.93" y="432.53" width="2.1" height="2.1" fill="#0000ff"/><rect x="320.74" y="445.69" width="2.1" height="2.1" fill="#0000ff"/><rect x="321.92" y="496.70" width="2.1" height="2.1" fill="#0000ff"/><rect x="323.10" y="500.55" width="2.1" height="2.1" fill="#0000ff"/><rect x="324.14" y="500.11" width="2.1" height="2.1" fill="#0000ff"/><rect x="325.17" y="499.37" width="2.1" height="2.1" fill="#0000ff"/><rect x="326.35" y="498.63" width="2.1" height="2.1" fill="#0000ff"/><rect x="327.54" y="497.44" width="2.1" height="2.1" fill="#0000ff"/><rect x="328.57" y="497.15" width="2.1" height="2.1" fill="#0000ff"/><rect x="329.61" y="497.59" width="2.1" height="2.1" fill="#0000ff"/><rect x="330.79" y="498.63" width="2.1" height="2.1" fill="#0000ff"/><rect x="331.97" y="499.66" width="2.1" height="2.1" fill="#0000ff"/><rect x="333.01" y="500.55" width="2.1" height="2.1" fill="#0000ff"/><rect x="334.49" y="500.11" width="2.1" height="2.1" fill="#0000ff"/><rect x="335.97" y="500.55" width="2.1" height="2.1" fill="#0000ff"/><rect x="337.45" y="500.84" width="2.1" height="2.1" fill="#0000ff"/><rect x="338.92" y="500.84" width="2.1" height="2.1" fill="#0000ff"/><rect x="340.40" y="501.14" width="2.1" height="2.1" fill="#0000ff"/><rect x="341.88" y="500.84" width="2.1" height="2.1" fill="#0000ff"/><rect x="343.36" y="500.55" width="2.1" height="2.1" fill="#0000ff"/><rect x="344.84" y="500.11" width="2.1" height="2.1" fill="#0000ff"/><rect x="345.87" y="497.89" width="2.1" height="2.1" fill="#0000ff"/><rect x="346.76" y="499.37" width="2.1" height="2.1" fill="#0000ff"/><rect x="347.80" y="500.11" width="2.1" height="2.1" fill="#0000ff"/><rect x="348.83" y="500.55" width="2.1" height="2.1" fill="#0000ff"/><rect x="350.01" y="500.84" width="2.1" height="2.1" fill="#0000ff"/><rect x="351.49" y="500.55" width="2.1" height="2.1" fill="#0000ff"/><rect x="352.97" y="500.11" width="2.1" height="2.1" fill="#0000ff"/><rect x="354.16" y="500.55" width="2.1" height="2.1" fill="#0000ff"/><rect x="355.19" y="500.84" width="2.1" height="2.1" fill="#0000ff"/><rect x="356.67" y="500.55" width="2.1" height="2.1" fill="#0000ff"/><rect x="358.15" y="499.66" width="2.1" height="2.1" fill="#0000ff"/><rect x="359.18" y="499.37" width="2.1" height="2.1" fill="#0000ff"/><rect x="360.37" y="500.11" width="2.1" height="2.1" fill="#0000ff"/><rect x="361.55" y="500.55" width="2.1" height="2.1" fill="#0000ff"/><rect x="363.03" y="500.84" width="2.1" height="2.1" fill="#0000ff"/><rect x="364.06" y="501.14" width="2.1" height="2.1" fill="#0000ff"/><rect x="319.39" y="386.86" width="2.1" height="2.1" fill="#0000ff"/><rect x="365.69" y="501.14" width="2.1" height="2.1" fill="#0000ff"/><rect x="367.17" y="500.84" width="2.1" height="2.1" fill="#0000ff"/><rect x="368.65" y="500.11" width="2.1" height="2.1" fill="#0000ff"/><rect x="370.57" y="497.89" width="2.1" height="2.1" fill="#0000ff"/><rect x="372.34" y="476.89" width="2.1" height="2.1" fill="#0000ff"/><rect x="373.38" y="454.71" width="2.1" height="2.1" fill="#0000ff"/><rect x="374.56" y="478.66" width="2.1" height="2.1" fill="#0000ff"/><rect x="376.04" y="500.84" width="2.1" height="2.1" fill="#0000ff"/><rect x="377.08" y="501.58" width="2.1" height="2.1" fill="#0000ff"/><rect x="378.26" y="501.58" width="2.1" height="2.1" fill="#0000ff"/><rect x="379.44" y="500.84" width="2.1" height="2.1" fill="#0000ff"/><rect x="380.92" y="500.55" width="2.1" height="2.1" fill="#0000ff"/><rect x="381.96" y="498.63" width="2.1" height="2.1" fill="#0000ff"/><rect x="382.99" y="495.96" width="2.1" height="2.1" fill="#0000ff"/><rect x="384.17" y="483.10" width="2.1" height="2.1" fill="#0000ff"/><rect x="385.65" y="435.78" width="2.1" height="2.1" fill="#0000ff"/><rect x="387.87" y="427.20" width="2.1" height="2.1" fill="#0000ff"/><rect x="388.61" y="491.97" width="2.1" height="2.1" fill="#0000ff"/><rect x="390.09" y="500.11" width="2.1" height="2.1" fill="#0000ff"/><rect x="391.27" y="500.84" width="2.1" height="2.1" fill="#0000ff"/><rect x="392.31" y="500.55" width="2.1" height="2.1" fill="#0000ff"/><rect x="393.49" y="499.37" width="2.1" height="2.1" fill="#0000ff"/><rect x="394.52" y="497.89" width="2.1" height="2.1" fill="#0000ff"/><rect x="395.71" y="494.93" width="2.1" height="2.1" fill="#0000ff"/><rect x="396.74" y="491.68" width="2.1" height="2.1" fill="#0000ff"/><rect x="397.78" y="487.83" width="2.1" height="2.1" fill="#0000ff"/><rect x="399.26" y="469.79" width="2.1" height="2.1" fill="#0000ff"/><rect x="400.44" y="459.44" width="2.1" height="2.1" fill="#0000ff"/><rect x="401.18" y="456.19" width="2.1" height="2.1" fill="#0000ff"/><rect x="402.66" y="497.89" width="2.1" height="2.1" fill="#0000ff"/><rect x="403.69" y="500.84" width="2.1" height="2.1" fill="#0000ff"/><rect x="404.88" y="501.14" width="2.1" height="2.1" fill="#0000ff"/><rect x="406.06" y="500.11" width="2.1" height="2.1" fill="#0000ff"/><rect x="407.09" y="498.63" width="2.1" height="2.1" fill="#0000ff"/><rect x="408.13" y="497.89" width="2.1" height="2.1" fill="#0000ff"/><rect x="409.02" y="496.41" width="2.1" height="2.1" fill="#0000ff"/><rect x="410.05" y="492.27" width="2.1" height="2.1" fill="#0000ff"/><rect x="411.53" y="476.00" width="2.1" height="2.1" fill="#0000ff"/><rect x="413.01" y="459.00" width="2.1" height="2.1" fill="#0000ff"/><rect x="413.75" y="463.88" width="2.1" height="2.1" fill="#0000ff"/><rect x="414.93" y="477.92" width="2.1" height="2.1" fill="#0000ff"/><rect x="415.97" y="490.79" width="2.1" height="2.1" fill="#0000ff"/><rect x="417.00" y="491.68" width="2.1" height="2.1" fill="#0000ff"/><rect x="418.18" y="492.27" width="2.1" height="2.1" fill="#0000ff"/><rect x="419.37" y="493.75" width="2.1" height="2.1" fill="#0000ff"/><rect x="420.40" y="497.15" width="2.1" height="2.1" fill="#0000ff"/><rect x="421.44" y="497.89" width="2.1" height="2.1" fill="#0000ff"/><rect x="422.62" y="499.07" width="2.1" height="2.1" fill="#0000ff"/><rect x="423.80" y="499.66" width="2.1" height="2.1" fill="#0000ff"/><rect x="424.84" y="487.83" width="2.1" height="2.1" fill="#0000ff"/><rect x="425.87" y="472.01" width="2.1" height="2.1" fill="#0000ff"/><rect x="426.76" y="468.61" width="2.1" height="2.1" fill="#0000ff"/><rect x="428.24" y="476.45" width="2.1" height="2.1" fill="#0000ff"/><rect x="429.72" y="489.01" width="2.1" height="2.1" fill="#0000ff"/><rect x="430.75" y="490.20" width="2.1" height="2.1" fill="#0000ff"/><rect x="431.79" y="491.23" width="2.1" height="2.1" fill="#0000ff"/><rect x="432.97" y="497.15" width="2.1" height="2.1" fill="#0000ff"/><rect x="434.16" y="499.37" width="2.1" height="2.1" fill="#0000ff"/><rect x="435.19" y="498.63" width="2.1" height="2.1" fill="#0000ff"/><rect x="436.67" y="499.37" width="2.1" height="2.1" fill="#0000ff"/><rect x="438.15" y="500.84" width="2.1" height="2.1" fill="#0000ff"/><rect x="439.63" y="486.80" width="2.1" height="2.1" fill="#0000ff"/><rect x="440.66" y="446.13" width="2.1" height="2.1" fill="#0000ff"/><rect x="441.84" y="441.40" width="2.1" height="2.1" fill="#0000ff"/><rect x="443.03" y="489.75" width="2.1" height="2.1" fill="#0000ff"/><rect x="386.76" y="369.25" width="2.1" height="2.1" fill="#0000ff"/><rect x="388.06" y="427.47" width="2.1" height="2.1" fill="#0000ff"/><rect x="445.69" y="501.14" width="2.1" height="2.1" fill="#0000ff"/><rect x="447.17" y="500.84" width="2.1" height="2.1" fill="#0000ff"/><rect x="448.65" y="500.84" width="2.1" height="2.1" fill="#0000ff"/><rect x="450.13" y="500.55" width="2.1" height="2.1" fill="#0000ff"/><rect x="451.60" y="500.55" width="2.1" height="2.1" fill="#0000ff"/><rect x="453.08" y="500.11" width="2.1" height="2.1" fill="#0000ff"/><rect x="454.56" y="500.55" width="2.1" height="2.1" fill="#0000ff"/><rect x="456.04" y="501.58" width="2.1" height="2.1" fill="#0000ff"/><rect x="457.52" y="501.14" width="2.1" height="2.1" fill="#0000ff"/><rect x="459.00" y="500.84" width="2.1" height="2.1" fill="#0000ff"/><rect x="460.48" y="500.55" width="2.1" height="2.1" fill="#0000ff"/><rect x="461.96" y="500.55" width="2.1" height="2.1" fill="#0000ff"/><rect x="463.43" y="500.84" width="2.1" height="2.1" fill="#0000ff"/><rect x="464.91" y="500.84" width="2.1" height="2.1" fill="#0000ff"/><rect x="466.39" y="496.41" width="2.1" height="2.1" fill="#0000ff"/><rect x="467.87" y="485.76" width="2.1" height="2.1" fill="#0000ff"/><rect x="468.91" y="487.24" width="2.1" height="2.1" fill="#0000ff"/><rect x="470.09" y="493.45" width="2.1" height="2.1" fill="#0000ff"/><rect x="471.27" y="491.68" width="2.1" height="2.1" fill="#0000ff"/><rect x="472.31" y="493.45" width="2.1" height="2.1" fill="#0000ff"/><rect x="473.05" y="500.84" width="2.1" height="2.1" fill="#0000ff"/><rect x="474.23" y="500.55" width="2.1" height="2.1" fill="#0000ff"/><rect x="475.71" y="499.66" width="2.1" height="2.1" fill="#0000ff"/><rect x="476.74" y="500.55" width="2.1" height="2.1" fill="#0000ff"/><rect x="478.22" y="498.63" width="2.1" height="2.1" fill="#0000ff"/><rect x="479.26" y="497.59" width="2.1" height="2.1" fill="#0000ff"/><rect x="480.44" y="490.79" width="2.1" height="2.1" fill="#0000ff"/><rect x="481.62" y="474.23" width="2.1" height="2.1" fill="#0000ff"/><rect x="482.66" y="465.35" width="2.1" height="2.1" fill="#0000ff"/><rect x="483.69" y="499.37" width="2.1" height="2.1" fill="#0000ff"/><rect x="484.88" y="500.55" width="2.1" height="2.1" fill="#0000ff"/><rect x="486.35" y="500.84" width="2.1" height="2.1" fill="#0000ff"/><rect x="487.83" y="497.89" width="2.1" height="2.1" fill="#0000ff"/><rect x="489.02" y="496.41" width="2.1" height="2.1" fill="#0000ff"/><rect x="490.05" y="499.37" width="2.1" height="2.1" fill="#0000ff"/><rect x="491.53" y="500.55" width="2.1" height="2.1" fill="#0000ff"/><rect x="493.01" y="501.14" width="2.1" height="2.1" fill="#0000ff"/><rect x="494.93" y="491.23" width="2.1" height="2.1" fill="#0000ff"/><rect x="495.97" y="474.23" width="2.1" height="2.1" fill="#0000ff"/><rect x="497.00" y="486.80" width="2.1" height="2.1" fill="#0000ff"/><rect x="498.18" y="489.01" width="2.1" height="2.1" fill="#0000ff"/><rect x="499.37" y="490.49" width="2.1" height="2.1" fill="#0000ff"/><rect x="500.40" y="494.19" width="2.1" height="2.1" fill="#0000ff"/><rect x="501.88" y="499.37" width="2.1" height="2.1" fill="#0000ff"/><rect x="503.36" y="500.55" width="2.1" height="2.1" fill="#0000ff"/><rect x="504.84" y="500.84" width="2.1" height="2.1" fill="#0000ff"/><rect x="506.32" y="500.55" width="2.1" height="2.1" fill="#0000ff"/><rect x="507.06" y="477.18" width="2.1" height="2.1" fill="#0000ff"/><rect x="508.24" y="433.12" width="2.1" height="2.1" fill="#0000ff"/><rect x="509.28" y="459.88" width="2.1" height="2.1" fill="#0000ff"/><rect x="510.75" y="500.55" width="2.1" height="2.1" fill="#0000ff"/><rect x="512.23" y="500.55" width="2.1" height="2.1" fill="#0000ff"/><rect x="513.71" y="500.11" width="2.1" height="2.1" fill="#0000ff"/><rect x="515.19" y="496.70" width="2.1" height="2.1" fill="#0000ff"/><rect x="516.67" y="496.41" width="2.1" height="2.1" fill="#0000ff"/><rect x="518.15" y="498.63" width="2.1" height="2.1" fill="#0000ff"/><rect x="519.18" y="499.66" width="2.1" height="2.1" fill="#0000ff"/><rect x="520.37" y="496.41" width="2.1" height="2.1" fill="#0000ff"/><rect x="521.55" y="493.45" width="2.1" height="2.1" fill="#0000ff"/><rect x="522.58" y="489.75" width="2.1" height="2.1" fill="#0000ff"/><rect x="523.62" y="488.28" width="2.1" height="2.1" fill="#0000ff"/><rect x="482.49" y="465.51" width="2.1" height="2.1" fill="#0000ff"/>
<line x1="48.5" y1="503.2" x2="48.5" y2="295.5" stroke="#3a3a3a" stroke-width="1.1"/>
<line x1="48.5" y1="503.2" x2="533" y2="503.2" stroke="#3a3a3a" stroke-width="1.1"/>
<polygon points="45.1,298.3 51.9,298.3 48.5,286.8" fill="#000"/>
<polygon points="530.8,500.0 530.8,506.4 543.2,503.2" fill="#000"/>
<line x1="48.5" y1="503.20" x2="52.0" y2="503.20" stroke="#444" stroke-width="1.3"/>
<text transform="translate(43.80,506.65) scale(1,1.12)" text-anchor="end" font-size="10" class="b">0</text>
<line x1="48.5" y1="485.15" x2="52.0" y2="485.15" stroke="#444" stroke-width="1.3"/>
<text transform="translate(43.80,488.60) scale(1,1.12)" text-anchor="end" font-size="10" class="b">50</text>
<line x1="48.5" y1="467.11" x2="52.0" y2="467.11" stroke="#444" stroke-width="1.3"/>
<text transform="translate(43.80,470.56) scale(1,1.12)" text-anchor="end" font-size="10" class="b">100</text>
<line x1="48.5" y1="449.06" x2="52.0" y2="449.06" stroke="#444" stroke-width="1.3"/>
<text transform="translate(43.80,452.51) scale(1,1.12)" text-anchor="end" font-size="10" class="b">150</text>
<line x1="48.5" y1="431.02" x2="52.0" y2="431.02" stroke="#444" stroke-width="1.3"/>
<text transform="translate(43.80,434.47) scale(1,1.12)" text-anchor="end" font-size="10" class="b">200</text>
<line x1="48.5" y1="412.98" x2="52.0" y2="412.98" stroke="#444" stroke-width="1.3"/>
<text transform="translate(43.80,416.43) scale(1,1.12)" text-anchor="end" font-size="10" class="b">250</text>
<line x1="48.5" y1="394.93" x2="52.0" y2="394.93" stroke="#444" stroke-width="1.3"/>
<text transform="translate(43.80,398.38) scale(1,1.12)" text-anchor="end" font-size="10" class="b">300</text>
<line x1="48.5" y1="376.88" x2="52.0" y2="376.88" stroke="#444" stroke-width="1.3"/>
<text transform="translate(43.80,380.33) scale(1,1.12)" text-anchor="end" font-size="10" class="b">350</text>
<line x1="48.5" y1="358.84" x2="52.0" y2="358.84" stroke="#444" stroke-width="1.3"/>
<text transform="translate(43.80,362.29) scale(1,1.12)" text-anchor="end" font-size="10" class="b">400</text>
<line x1="48.5" y1="340.79" x2="52.0" y2="340.79" stroke="#444" stroke-width="1.3"/>
<text transform="translate(43.80,344.24) scale(1,1.12)" text-anchor="end" font-size="10" class="b">450</text>
<line x1="48.5" y1="322.75" x2="52.0" y2="322.75" stroke="#444" stroke-width="1.3"/>
<text transform="translate(43.80,326.20) scale(1,1.12)" text-anchor="end" font-size="10" class="b">500</text>
<line x1="48.5" y1="304.70" x2="52.0" y2="304.70" stroke="#444" stroke-width="1.3"/>
<text transform="translate(43.80,308.15) scale(1,1.12)" text-anchor="end" font-size="10" class="b">550</text>
<line x1="48.90" y1="503.2" x2="48.90" y2="500.7" stroke="#333" stroke-width="0.8"/>
<line x1="62.40" y1="503.2" x2="62.40" y2="500.7" stroke="#333" stroke-width="0.8"/>
<line x1="75.90" y1="503.2" x2="75.90" y2="500.7" stroke="#333" stroke-width="0.8"/>
<line x1="89.40" y1="503.2" x2="89.40" y2="500.7" stroke="#333" stroke-width="0.8"/>
<line x1="102.90" y1="503.2" x2="102.90" y2="500.7" stroke="#333" stroke-width="0.8"/>
<line x1="116.40" y1="503.2" x2="116.40" y2="500.7" stroke="#333" stroke-width="0.8"/>
<line x1="129.90" y1="503.2" x2="129.90" y2="500.7" stroke="#333" stroke-width="0.8"/>
<line x1="143.40" y1="503.2" x2="143.40" y2="500.7" stroke="#333" stroke-width="0.8"/>
<line x1="156.90" y1="503.2" x2="156.90" y2="500.7" stroke="#333" stroke-width="0.8"/>
<line x1="170.40" y1="503.2" x2="170.40" y2="500.7" stroke="#333" stroke-width="0.8"/>
<line x1="183.90" y1="503.2" x2="183.90" y2="500.7" stroke="#333" stroke-width="0.8"/>
<line x1="197.40" y1="503.2" x2="197.40" y2="500.7" stroke="#333" stroke-width="0.8"/>
<line x1="210.90" y1="503.2" x2="210.90" y2="500.7" stroke="#333" stroke-width="0.8"/>
<line x1="224.40" y1="503.2" x2="224.40" y2="500.7" stroke="#333" stroke-width="0.8"/>
<line x1="237.90" y1="503.2" x2="237.90" y2="500.7" stroke="#333" stroke-width="0.8"/>
<line x1="251.40" y1="503.2" x2="251.40" y2="500.7" stroke="#333" stroke-width="0.8"/>
<line x1="264.90" y1="503.2" x2="264.90" y2="500.7" stroke="#333" stroke-width="0.8"/>
<line x1="278.40" y1="503.2" x2="278.40" y2="500.7" stroke="#333" stroke-width="0.8"/>
<line x1="291.90" y1="503.2" x2="291.90" y2="500.7" stroke="#333" stroke-width="0.8"/>
<line x1="305.40" y1="503.2" x2="305.40" y2="500.7" stroke="#333" stroke-width="0.8"/>
<line x1="318.90" y1="503.2" x2="318.90" y2="500.7" stroke="#333" stroke-width="0.8"/>
<line x1="332.40" y1="503.2" x2="332.40" y2="500.7" stroke="#333" stroke-width="0.8"/>
<line x1="345.90" y1="503.2" x2="345.90" y2="500.7" stroke="#333" stroke-width="0.8"/>
<line x1="359.40" y1="503.2" x2="359.40" y2="500.7" stroke="#333" stroke-width="0.8"/>
<line x1="372.90" y1="503.2" x2="372.90" y2="500.7" stroke="#333" stroke-width="0.8"/>
<line x1="386.40" y1="503.2" x2="386.40" y2="500.7" stroke="#333" stroke-width="0.8"/>
<line x1="399.90" y1="503.2" x2="399.90" y2="500.7" stroke="#333" stroke-width="0.8"/>
<line x1="413.40" y1="503.2" x2="413.40" y2="500.7" stroke="#333" stroke-width="0.8"/>
<line x1="426.90" y1="503.2" x2="426.90" y2="500.7" stroke="#333" stroke-width="0.8"/>
<line x1="440.40" y1="503.2" x2="440.40" y2="500.7" stroke="#333" stroke-width="0.8"/>
<line x1="453.90" y1="503.2" x2="453.90" y2="500.7" stroke="#333" stroke-width="0.8"/>
<line x1="467.40" y1="503.2" x2="467.40" y2="500.7" stroke="#333" stroke-width="0.8"/>
<line x1="480.90" y1="503.2" x2="480.90" y2="500.7" stroke="#333" stroke-width="0.8"/>
<line x1="494.40" y1="503.2" x2="494.40" y2="500.7" stroke="#333" stroke-width="0.8"/>
<line x1="507.90" y1="503.2" x2="507.90" y2="500.7" stroke="#333" stroke-width="0.8"/>
<line x1="521.40" y1="503.2" x2="521.40" y2="500.7" stroke="#333" stroke-width="0.8"/>
<text transform="translate(48.90,519.00) scale(1,1.14)" text-anchor="middle" font-size="10.2" class="b">1 Jan, 2025</text>
<text transform="translate(116.40,519.00) scale(1,1.14)" text-anchor="middle" font-size="10.2" class="b">1 Jan, 2030</text>
<text transform="translate(197.40,519.00) scale(1,1.14)" text-anchor="middle" font-size="10.2" class="b">1 Jan, 2036</text>
<text transform="translate(278.40,519.00) scale(1,1.14)" text-anchor="middle" font-size="10.2" class="b">1 Jan, 2042</text>
<text transform="translate(359.40,519.00) scale(1,1.14)" text-anchor="middle" font-size="10.2" class="b">1 Jan, 2048</text>
<text transform="translate(440.40,519.00) scale(1,1.14)" text-anchor="middle" font-size="10.2" class="b">1 Jan, 2054</text>
<text transform="translate(521.40,519.00) scale(1,1.14)" text-anchor="middle" font-size="10.2" class="b">1 Jan, 2060</text>
<text transform="translate(287.50,534.60) scale(1,1.08)" text-anchor="middle" font-size="13.7" class="b">Time(Month)</text>
<text class="b" transform="translate(19.6,401.3) rotate(-90) scale(0.975,1)" text-anchor="middle" font-size="14.5">Monthly Streamflow(m<tspan font-size="9.5" dy="-5">3</tspan><tspan dy="5">/s)</tspan></text>
<rect x="55.5" y="298.5" width="126" height="33" fill="#fff" stroke="#222" stroke-width="1"/>
<rect x="69" y="308.2" width="2" height="2" fill="#0000ff"/>
<rect x="59.7" y="316.9" width="20.4" height="6.7" fill="#bdbdbd"/>
<text transform="translate(84.20,312.90) scale(1,1.08)" font-size="9.3" class="c">Observed streamflow</text>
<text transform="translate(84.20,323.80) scale(1,1.08)" font-size="9.3" class="c">95% Confidence Interval</text>
<text transform="translate(532.50,305.30) scale(1,1.05)" text-anchor="middle" font-size="14.8" class="b">(d)</text>
</svg></body></html>
